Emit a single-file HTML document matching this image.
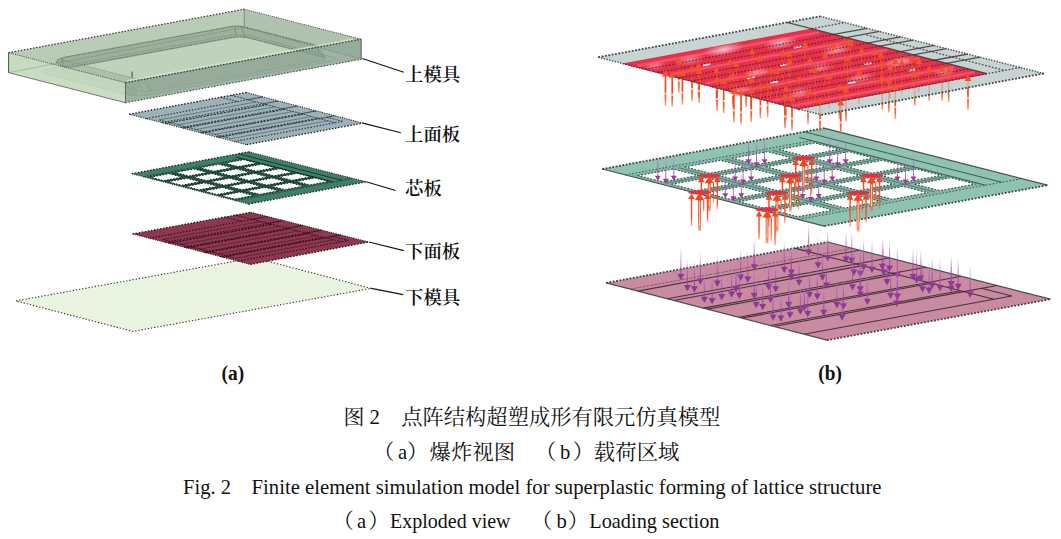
<!DOCTYPE html>
<html lang="zh"><head><meta charset="utf-8"><title>图 2 点阵结构超塑成形有限元仿真模型</title>
<style>html,body{margin:0;padding:0;background:#fff;overflow:hidden}svg{display:block}</style></head>
<body>
<svg width="1061" height="539" viewBox="0 0 1061 539">
<defs>
<linearGradient id="gr" x1="0" y1="0" x2="0" y2="1"><stop offset="0" stop-color="#f0481f"/><stop offset="0.6" stop-color="#f24e26" stop-opacity="1"/><stop offset="0.82" stop-color="#f4602f" stop-opacity="0.9"/><stop offset="1" stop-color="#f67246" stop-opacity="0.55"/></linearGradient>
<linearGradient id="gp" x1="0" y1="1" x2="0" y2="0"><stop offset="0" stop-color="#9a3c9c" stop-opacity="0.9"/><stop offset="0.45" stop-color="#a84cb0" stop-opacity="0.65"/><stop offset="0.75" stop-color="#c070c8" stop-opacity="0.4"/><stop offset="1" stop-color="#d090d8" stop-opacity="0.05"/></linearGradient>
<radialGradient id="hl"><stop offset="0" stop-color="#fff" stop-opacity="0.85"/><stop offset="1" stop-color="#fff" stop-opacity="0"/></radialGradient>
</defs>
<rect width="1061" height="539" fill="#fff"/>
<polygon points="16,300.9 254.3,257.7 371.2,288.4 132.9,331.4" fill="#eaf4e1"/>
<polygon points="16,300.9 254.3,257.7 371.2,288.4 132.9,331.4" fill="none" stroke="#333" stroke-width="1.1" stroke-dasharray="1.3 1.9"/>
<polygon points="132.6,233.9 250.8,212.3 368.9,242 250.5,264.4" fill="#8e3750"/>
<line x1="149.46" y1="238.26" x2="252.32" y2="219.37" stroke="#2a0e18" stroke-width="1.2" stroke-dasharray="1.5 1.6" opacity="0.9"/>
<line x1="165.26" y1="242.35" x2="268.14" y2="223.36" stroke="#2a0e18" stroke-width="1.2" stroke-dasharray="1.5 1.6" opacity="0.9"/>
<line x1="168.68" y1="243.23" x2="271.56" y2="224.23" stroke="#2a0e18" stroke-width="1.2" stroke-dasharray="2.5 1" opacity="0.9"/>
<line x1="184.48" y1="247.32" x2="287.39" y2="228.22" stroke="#2a0e18" stroke-width="1.2" stroke-dasharray="1.5 1.6" opacity="0.9"/>
<line x1="186.6" y1="247.87" x2="289.51" y2="228.76" stroke="#2a0e18" stroke-width="1.2" stroke-dasharray="2.5 1" opacity="0.9"/>
<line x1="203.34" y1="252.2" x2="306.28" y2="232.99" stroke="#2a0e18" stroke-width="1.2" stroke-dasharray="1.5 1.6" opacity="0.9"/>
<line x1="205.11" y1="252.66" x2="308.05" y2="233.44" stroke="#2a0e18" stroke-width="1.2" stroke-dasharray="2.5 1" opacity="0.9"/>
<line x1="220.32" y1="256.59" x2="323.28" y2="237.28" stroke="#2a0e18" stroke-width="1.2" stroke-dasharray="1.5 1.6" opacity="0.9"/>
<line x1="222.2" y1="257.08" x2="325.17" y2="237.76" stroke="#2a0e18" stroke-width="1.2" stroke-dasharray="2.5 1" opacity="0.9"/>
<line x1="238.12" y1="261.2" x2="348.21" y2="240.44" stroke="#2a0e18" stroke-width="1.2" stroke-dasharray="1.5 1.6" opacity="0.9"/>
<line x1="162.68" y1="239.59" x2="260.82" y2="221.52" stroke="#2a0e18" stroke-width="0.8" opacity="0.55"/>
<line x1="181.54" y1="244.46" x2="279.71" y2="226.28" stroke="#2a0e18" stroke-width="0.8" opacity="0.55"/>
<line x1="199.82" y1="249.18" x2="298.01" y2="230.9" stroke="#2a0e18" stroke-width="0.8" opacity="0.55"/>
<line x1="218.68" y1="254.06" x2="316.91" y2="235.67" stroke="#2a0e18" stroke-width="0.8" opacity="0.55"/>
<line x1="235.19" y1="258.32" x2="333.44" y2="239.85" stroke="#2a0e18" stroke-width="0.8" opacity="0.55"/>
<line x1="235.43" y1="215.11" x2="341.11" y2="241.78" stroke="#2a0e18" stroke-width="1.02" stroke-dasharray="2 1" opacity="0.765"/>
<line x1="332.27" y1="236.43" x2="348.21" y2="240.44" stroke="#2a0e18" stroke-width="1.02" stroke-dasharray="2 1" opacity="0.765"/>
<line x1="224.8" y1="217.05" x2="241.68" y2="221.32" stroke="#2a0e18" stroke-width="1.02" stroke-dasharray="2 1" opacity="0.765"/>
<line x1="162.68" y1="239.59" x2="235.19" y2="258.32" stroke="#2a0e18" stroke-width="1.02" stroke-dasharray="2 1" opacity="0.765"/>
<line x1="252.32" y1="219.37" x2="267.69" y2="216.55" stroke="#2a0e18" stroke-width="1.08" opacity="0.7200000000000001"/>
<line x1="268.14" y1="223.36" x2="283.51" y2="220.53" stroke="#2a0e18" stroke-width="1.08" opacity="0.7200000000000001"/>
<line x1="287.39" y1="228.22" x2="302.76" y2="225.37" stroke="#2a0e18" stroke-width="1.08" opacity="0.7200000000000001"/>
<line x1="306.28" y1="232.99" x2="321.66" y2="230.12" stroke="#2a0e18" stroke-width="1.08" opacity="0.7200000000000001"/>
<line x1="325.17" y1="237.76" x2="340.56" y2="234.87" stroke="#2a0e18" stroke-width="1.08" opacity="0.7200000000000001"/>
<line x1="132.6" y1="233.9" x2="250.5" y2="264.4" stroke="#1c1c1c" stroke-width="1.1" stroke-dasharray="1.1 1.2" opacity="0.9"/>
<line x1="250.8" y1="212.3" x2="368.9" y2="242" stroke="#1c1c1c" stroke-width="1.1" stroke-dasharray="1.1 1.2" opacity="0.9"/>
<line x1="132.6" y1="233.9" x2="250.8" y2="212.3" stroke="#1c1c1c" stroke-width="1.3" stroke-dasharray="1.5 1.6"/>
<line x1="250.5" y1="264.4" x2="368.9" y2="242" stroke="#1c1c1c" stroke-width="1.3" stroke-dasharray="1.5 1.6"/>
<polygon points="131.8,173.7 248.8,151.8 366.2,181.8 248.6,204.1" fill="#3f7f6a"/>
<polygon points="145.82,176.98 243.63,158.65 333.01,181.55 234.82,200.14" fill="#0c241c" opacity="0.3"/>
<polygon points="150.5,177.15 168.99,173.68 182.32,177.14 163.81,180.61" fill="#fff" stroke="#0c241c" stroke-width="1.0" stroke-dasharray="1.5 1.6"/>
<polygon points="168.25,181.77 186.76,178.29 200.09,181.75 181.57,185.23" fill="#fff" stroke="#0c241c" stroke-width="1.0" stroke-dasharray="1.5 1.6"/>
<polygon points="186.01,186.39 204.54,182.9 217.86,186.36 199.32,189.85" fill="#fff" stroke="#0c241c" stroke-width="1.0" stroke-dasharray="1.5 1.6"/>
<polygon points="203.76,191.01 222.31,187.51 235.63,190.97 217.08,194.47" fill="#fff" stroke="#0c241c" stroke-width="1.0" stroke-dasharray="1.5 1.6"/>
<polygon points="221.52,195.63 240.08,192.12 253.4,195.58 234.84,199.09" fill="#fff" stroke="#0c241c" stroke-width="1.0" stroke-dasharray="1.5 1.6"/>
<polygon points="175.38,172.49 193.87,169.02 207.22,172.46 188.71,175.94" fill="#fff" stroke="#0c241c" stroke-width="1.0" stroke-dasharray="1.5 1.6"/>
<polygon points="193.15,177.09 211.66,173.61 225.01,177.06 206.48,180.55" fill="#fff" stroke="#0c241c" stroke-width="1.0" stroke-dasharray="1.5 1.6"/>
<polygon points="210.93,181.7 229.45,178.21 242.8,181.66 224.26,185.15" fill="#fff" stroke="#0c241c" stroke-width="1.0" stroke-dasharray="1.5 1.6"/>
<polygon points="228.7,186.3 247.24,182.81 260.59,186.25 242.03,189.76" fill="#fff" stroke="#0c241c" stroke-width="1.0" stroke-dasharray="1.5 1.6"/>
<polygon points="246.48,190.91 265.03,187.4 278.38,190.85 259.81,194.37" fill="#fff" stroke="#0c241c" stroke-width="1.0" stroke-dasharray="1.5 1.6"/>
<polygon points="200.25,167.82 218.75,164.35 232.11,167.79 213.6,171.27" fill="#fff" stroke="#0c241c" stroke-width="1.0" stroke-dasharray="1.5 1.6"/>
<polygon points="218.05,172.41 236.56,168.94 249.92,172.37 231.4,175.86" fill="#fff" stroke="#0c241c" stroke-width="1.0" stroke-dasharray="1.5 1.6"/>
<polygon points="235.84,177.01 254.37,173.52 267.73,176.96 249.19,180.45" fill="#fff" stroke="#0c241c" stroke-width="1.0" stroke-dasharray="1.5 1.6"/>
<polygon points="253.64,181.6 272.18,178.1 285.54,181.54 266.99,185.05" fill="#fff" stroke="#0c241c" stroke-width="1.0" stroke-dasharray="1.5 1.6"/>
<polygon points="271.43,186.19 289.99,182.69 303.35,186.12 284.78,189.64" fill="#fff" stroke="#0c241c" stroke-width="1.0" stroke-dasharray="1.5 1.6"/>
<polygon points="225.13,163.16 243.63,159.69 257,163.11 238.49,166.59" fill="#fff" stroke="#0c241c" stroke-width="1.0" stroke-dasharray="1.5 1.6"/>
<polygon points="242.95,167.74 261.46,164.26 274.83,167.69 256.31,171.17" fill="#fff" stroke="#0c241c" stroke-width="1.0" stroke-dasharray="1.5 1.6"/>
<polygon points="260.76,172.32 279.29,168.83 292.66,172.26 274.12,175.75" fill="#fff" stroke="#0c241c" stroke-width="1.0" stroke-dasharray="1.5 1.6"/>
<polygon points="278.58,176.9 297.12,173.4 310.49,176.83 291.94,180.33" fill="#fff" stroke="#0c241c" stroke-width="1.0" stroke-dasharray="1.5 1.6"/>
<polygon points="296.39,181.48 314.95,177.97 328.32,181.4 309.75,184.91" fill="#fff" stroke="#0c241c" stroke-width="1.0" stroke-dasharray="1.5 1.6"/>
<line x1="171.83" y1="172.99" x2="256.96" y2="195.06" stroke="#0c241c" stroke-width="0.7" opacity="0.7"/>
<line x1="196.71" y1="168.33" x2="281.93" y2="190.34" stroke="#0c241c" stroke-width="0.7" opacity="0.7"/>
<line x1="221.59" y1="163.66" x2="306.9" y2="185.61" stroke="#0c241c" stroke-width="0.7" opacity="0.7"/>
<line x1="165.21" y1="181.35" x2="260.52" y2="163.44" stroke="#0c241c" stroke-width="0.7" opacity="0.7"/>
<line x1="182.97" y1="185.97" x2="278.35" y2="168.01" stroke="#0c241c" stroke-width="0.7" opacity="0.7"/>
<line x1="200.72" y1="190.59" x2="296.18" y2="172.58" stroke="#0c241c" stroke-width="0.7" opacity="0.7"/>
<line x1="218.48" y1="195.21" x2="314.01" y2="177.15" stroke="#0c241c" stroke-width="0.7" opacity="0.7"/>
<line x1="235.65" y1="156.86" x2="333.6" y2="181.97" stroke="#0c241c" stroke-width="0.9" opacity="0.85"/>
<line x1="238.27" y1="153.77" x2="342.12" y2="180.35" stroke="#0c241c" stroke-width="0.9" opacity="0.85"/>
<line x1="235.17" y1="200.6" x2="352.7" y2="178.35" stroke="#0c241c" stroke-width="0.9" stroke-dasharray="1.5 1.6" opacity="0.85"/>
<line x1="143.83" y1="176.83" x2="241.87" y2="158.46" stroke="#0c241c" stroke-width="0.9" stroke-dasharray="1.5 1.6" opacity="0.85"/>
<line x1="131.8" y1="173.7" x2="248.6" y2="204.1" stroke="#1c1c1c" stroke-width="1.1" stroke-dasharray="1.1 1.2" opacity="0.9"/>
<line x1="248.8" y1="151.8" x2="366.2" y2="181.8" stroke="#1c1c1c" stroke-width="1.1" stroke-dasharray="1.1 1.2" opacity="0.9"/>
<line x1="131.8" y1="173.7" x2="248.8" y2="151.8" stroke="#1c1c1c" stroke-width="1.3" stroke-dasharray="1.5 1.6"/>
<line x1="248.6" y1="204.1" x2="366.2" y2="181.8" stroke="#1c1c1c" stroke-width="1.3" stroke-dasharray="1.5 1.6"/>
<polygon points="129.3,114.2 246.3,92.5 362.8,123.1 246.6,144.7" fill="#9db2b8"/>
<line x1="146.07" y1="118.56" x2="247.76" y2="99.69" stroke="#263238" stroke-width="1.2" stroke-dasharray="1.5 1.6" opacity="0.9"/>
<line x1="161.79" y1="122.65" x2="263.39" y2="103.79" stroke="#263238" stroke-width="1.2" stroke-dasharray="1.5 1.6" opacity="0.9"/>
<line x1="165.19" y1="123.53" x2="266.77" y2="104.68" stroke="#263238" stroke-width="1.2" stroke-dasharray="2.5 1" opacity="0.9"/>
<line x1="180.91" y1="127.62" x2="282.4" y2="108.78" stroke="#263238" stroke-width="1.2" stroke-dasharray="1.5 1.6" opacity="0.9"/>
<line x1="183.02" y1="128.17" x2="284.49" y2="109.33" stroke="#263238" stroke-width="1.2" stroke-dasharray="2.5 1" opacity="0.9"/>
<line x1="199.68" y1="132.5" x2="301.05" y2="113.67" stroke="#263238" stroke-width="1.2" stroke-dasharray="1.5 1.6" opacity="0.9"/>
<line x1="201.44" y1="132.96" x2="302.8" y2="114.13" stroke="#263238" stroke-width="1.2" stroke-dasharray="2.5 1" opacity="0.9"/>
<line x1="216.57" y1="136.89" x2="317.84" y2="118.08" stroke="#263238" stroke-width="1.2" stroke-dasharray="1.5 1.6" opacity="0.9"/>
<line x1="218.45" y1="137.38" x2="319.71" y2="118.57" stroke="#263238" stroke-width="1.2" stroke-dasharray="2.5 1" opacity="0.9"/>
<line x1="234.28" y1="141.5" x2="342.43" y2="121.4" stroke="#263238" stroke-width="1.2" stroke-dasharray="1.5 1.6" opacity="0.9"/>
<line x1="159.19" y1="119.89" x2="256.16" y2="101.9" stroke="#263238" stroke-width="0.8" opacity="0.55"/>
<line x1="177.96" y1="124.77" x2="274.82" y2="106.79" stroke="#263238" stroke-width="0.8" opacity="0.55"/>
<line x1="196.13" y1="129.5" x2="292.89" y2="111.53" stroke="#263238" stroke-width="0.8" opacity="0.55"/>
<line x1="214.89" y1="134.38" x2="311.55" y2="116.43" stroke="#263238" stroke-width="0.8" opacity="0.55"/>
<line x1="231.31" y1="138.65" x2="327.87" y2="120.71" stroke="#263238" stroke-width="0.8" opacity="0.55"/>
<line x1="231.09" y1="95.32" x2="335.45" y2="122.7" stroke="#263238" stroke-width="1.02" stroke-dasharray="2 1" opacity="0.765"/>
<line x1="326.69" y1="117.27" x2="342.43" y2="121.4" stroke="#263238" stroke-width="1.02" stroke-dasharray="2 1" opacity="0.765"/>
<line x1="220.56" y1="97.27" x2="237.24" y2="101.65" stroke="#263238" stroke-width="1.02" stroke-dasharray="2 1" opacity="0.765"/>
<line x1="159.19" y1="119.89" x2="231.31" y2="138.65" stroke="#263238" stroke-width="1.02" stroke-dasharray="2 1" opacity="0.765"/>
<line x1="247.76" y1="99.69" x2="262.96" y2="96.88" stroke="#263238" stroke-width="1.08" opacity="0.7200000000000001"/>
<line x1="263.39" y1="103.79" x2="278.57" y2="100.98" stroke="#263238" stroke-width="1.08" opacity="0.7200000000000001"/>
<line x1="282.4" y1="108.78" x2="297.56" y2="105.96" stroke="#263238" stroke-width="1.08" opacity="0.7200000000000001"/>
<line x1="301.05" y1="113.67" x2="316.2" y2="110.86" stroke="#263238" stroke-width="1.08" opacity="0.7200000000000001"/>
<line x1="319.71" y1="118.57" x2="334.84" y2="115.76" stroke="#263238" stroke-width="1.08" opacity="0.7200000000000001"/>
<line x1="129.3" y1="114.2" x2="246.6" y2="144.7" stroke="#1c1c1c" stroke-width="1.1" stroke-dasharray="1.1 1.2" opacity="0.9"/>
<line x1="246.3" y1="92.5" x2="362.8" y2="123.1" stroke="#1c1c1c" stroke-width="1.1" stroke-dasharray="1.1 1.2" opacity="0.9"/>
<line x1="129.3" y1="114.2" x2="246.3" y2="92.5" stroke="#1c1c1c" stroke-width="1.3" stroke-dasharray="1.5 1.6"/>
<line x1="246.6" y1="144.7" x2="362.8" y2="123.1" stroke="#1c1c1c" stroke-width="1.3" stroke-dasharray="1.5 1.6"/>
<polygon points="8.6,52.7 244.3,9.2 361.2,39.2 361.2,59.2 125.5,102.7 8.6,72.7" fill="#bfd2bb"/>
<polygon points="8.6,52.7 244.3,9.2 244.3,27.2 8.6,72.7" fill="#b3c6b0" opacity="0.55"/>
<polygon points="244.3,9.2 361.2,39.2 361.2,59.2 244.3,27.2" fill="#a3b7a3" opacity="0.6"/>
<path d="M45.33,73.81 43.62,73.29 42.37,72.72 41.6,72.12 41.36,71.52 41.64,70.93 42.45,70.39 43.74,69.91 45.47,69.51 230.86,35.29 232.97,34.98 235.36,34.78 237.96,34.7 240.65,34.73 243.35,34.89 245.93,35.15 248.31,35.51 250.38,35.96 331.55,56.79 333.25,57.31 334.5,57.88 335.27,58.48 335.51,59.08 335.23,59.66 334.42,60.21 333.13,60.69 331.4,61.09 146.01,95.31 143.9,95.61 141.51,95.81 138.91,95.89 136.22,95.86 133.53,95.71 130.94,95.45 128.57,95.08 126.49,94.63Z M64.3,60.4 63.11,60.03 62.22,59.63 61.69,59.21 61.52,58.79 61.72,58.38 62.28,58 63.19,57.67 64.4,57.38 230.94,26.65 232.42,26.43 234.09,26.29 235.91,26.24 237.8,26.26 239.68,26.36 241.49,26.55 243.15,26.8 244.61,27.12 314.51,45.06 315.7,45.42 316.58,45.82 317.12,46.24 317.29,46.66 317.09,47.07 316.53,47.45 315.62,47.79 314.41,48.07 147.87,78.8 146.39,79.02 144.72,79.16 142.9,79.22 141.01,79.19 139.13,79.09 137.32,78.9 135.66,78.65 134.2,78.33Z" fill="#8fa590" fill-rule="evenodd" opacity="0.13"/>
<polygon points="56.4,62.6 57.6,60 60.5,58.4 64.4,57.38 230.94,26.65 232.42,26.43 234.09,26.29 235.91,26.24 237.8,26.26 239.68,26.36 241.49,26.55 243.15,26.8 244.61,27.12 314.51,45.06 315.7,45.42 316.58,45.82 317.12,46.24 317.29,46.66 317.09,47.07 316.53,47.45 324.82,57.61 323.81,57.16 322.45,56.74 248.64,37.8 246.98,37.44 245.07,37.15 243.01,36.94 240.86,36.82 238.7,36.79 236.62,36.86 234.71,37.02 233.02,37.26 75,66.4 66,66.7 59.5,64.9" fill="#99ae9a" opacity="0.92" stroke="#99ae9a" stroke-width="1.5" stroke-linejoin="round"/>
<polygon points="45.33,73.81 43.62,73.29 42.37,72.72 41.6,72.12 41.36,71.52 41.64,70.93 42.45,70.39 43.74,69.91 45.47,69.51 230.86,35.29 232.97,34.98 235.36,34.78 237.96,34.7 240.65,34.73 243.35,34.89 245.93,35.15 248.31,35.51 250.38,35.96 331.55,56.79 333.25,57.31 334.5,57.88 335.27,58.48 335.51,59.08 335.23,59.66 334.42,60.21 333.13,60.69 331.4,61.09 146.01,95.31 143.9,95.61 141.51,95.81 138.91,95.89 136.22,95.86 133.53,95.71 130.94,95.45 128.57,95.08 126.49,94.63" fill="none" stroke="#7b8f7d" stroke-width="0.8" opacity="0.7"/>
<polygon points="65.26,71.64 63.9,71.23 62.9,70.77 62.29,70.29 62.09,69.81 62.32,69.34 62.96,68.91 64,68.52 65.38,68.2 233.02,37.26 234.71,37.02 236.62,36.86 238.7,36.79 240.86,36.82 243.01,36.94 245.07,37.15 246.98,37.44 248.64,37.8 322.45,56.74 323.81,57.16 324.82,57.61 325.43,58.09 325.63,58.57 325.4,59.04 324.76,59.48 323.72,59.86 322.33,60.18 154.69,91.12 153.01,91.37 151.09,91.53 149.02,91.59 146.86,91.57 144.71,91.45 142.64,91.24 140.74,90.95 139.08,90.59" fill="none" stroke="#7b8f7d" stroke-width="0.8" opacity="0.6"/>
<polygon points="64.3,60.4 63.11,60.03 62.22,59.63 61.69,59.21 61.52,58.79 61.72,58.38 62.28,58 63.19,57.67 64.4,57.38 230.94,26.65 232.42,26.43 234.09,26.29 235.91,26.24 237.8,26.26 239.68,26.36 241.49,26.55 243.15,26.8 244.61,27.12 314.51,45.06 315.7,45.42 316.58,45.82 317.12,46.24 317.29,46.66 317.09,47.07 316.53,47.45 315.62,47.79 314.41,48.07 147.87,78.8 146.39,79.02 144.72,79.16 142.9,79.22 141.01,79.19 139.13,79.09 137.32,78.9 135.66,78.65 134.2,78.33" fill="none" stroke="#7b8f7d" stroke-width="0.8" opacity="0.6"/>
<polyline points="56.4,62.6 57.6,60 60.5,58.4 64.4,57.38 230.94,26.65 232.42,26.43 234.09,26.29 235.91,26.24 237.8,26.26 239.68,26.36 241.49,26.55 243.15,26.8 244.61,27.12 314.51,45.06 315.7,45.42 316.58,45.82 317.12,46.24 317.29,46.66 317.09,47.07 316.53,47.45" fill="none" stroke="#55685a" stroke-width="1.0" stroke-dasharray="1.5 1.6" opacity="0.75"/>
<polyline points="59.5,64.9 66,66.7 75,66.4 233.02,37.26 234.71,37.02 236.62,36.86 238.7,36.79 240.86,36.82 243.01,36.94 245.07,37.15 246.98,37.44 248.64,37.8 322.45,56.74 323.81,57.16 324.82,57.61" fill="none" stroke="#55685a" stroke-width="1.0" stroke-dasharray="1.5 1.6" opacity="0.75"/>
<line x1="62.22" y1="59.63" x2="62.9" y2="70.77" stroke="#6b7f6d" stroke-width="0.7" opacity="0.8"/>
<line x1="62.28" y1="58" x2="62.96" y2="68.91" stroke="#6b7f6d" stroke-width="0.7" opacity="0.8"/>
<line x1="234.09" y1="26.29" x2="236.62" y2="36.86" stroke="#6b7f6d" stroke-width="0.7" opacity="0.8"/>
<line x1="241.49" y1="26.55" x2="245.07" y2="37.15" stroke="#6b7f6d" stroke-width="0.7" opacity="0.8"/>
<line x1="316.58" y1="45.82" x2="324.82" y2="57.61" stroke="#6b7f6d" stroke-width="0.7" opacity="0.8"/>
<line x1="316.53" y1="47.45" x2="324.76" y2="59.48" stroke="#6b7f6d" stroke-width="0.7" opacity="0.8"/>
<line x1="144.72" y1="79.16" x2="151.09" y2="91.53" stroke="#6b7f6d" stroke-width="0.7" opacity="0.8"/>
<line x1="137.32" y1="78.9" x2="142.64" y2="91.24" stroke="#6b7f6d" stroke-width="0.7" opacity="0.8"/>
<polygon points="64.3,60.4 134.2,78.33 141.01,79.19 136.22,95.86 126.49,94.63 45.33,73.81 41.36,71.52 59.5,64.9 56.4,62.6" fill="#93a895" opacity="0.32"/>
<polygon points="317.29,46.66 314.41,48.07 147.87,78.8 141.01,79.19 146.86,91.57 154.69,91.12 322.33,60.18 325.63,58.57" fill="#93a895" opacity="0.3"/>
<polygon points="8.6,52.7 125.5,82.7 125.5,102.7 8.6,72.7" fill="#cde1c8" opacity="0.7"/>
<polygon points="125.5,82.7 361.2,39.2 361.2,59.2 125.5,102.7" fill="#889e90" opacity="0.62"/>
<line x1="126.71" y1="80.93" x2="352.98" y2="39.17" stroke="#d6e6cf" stroke-width="1.6" opacity="0.8"/>
<line x1="8.6" y1="72.7" x2="244.3" y2="27.2" stroke="#6f806f" stroke-width="0.8" opacity="0.45"/>
<line x1="244.3" y1="27.2" x2="361.2" y2="59.2" stroke="#5f705f" stroke-width="0.9" stroke-dasharray="1.2 1.6" opacity="0.7"/>
<line x1="244.3" y1="9.2" x2="244.3" y2="27.2" stroke="#6f806f" stroke-width="0.9" opacity="0.9"/>
<line x1="8.6" y1="52.7" x2="244.3" y2="9.2" stroke="#262b26" stroke-width="1.25" stroke-dasharray="1.5 1.6" opacity="0.9"/>
<line x1="125.5" y1="82.7" x2="361.2" y2="39.2" stroke="#262b26" stroke-width="1.25" stroke-dasharray="1.5 1.6" opacity="0.9"/>
<line x1="8.6" y1="52.7" x2="125.5" y2="82.7" stroke="#3a443a" stroke-width="1.0" stroke-dasharray="1.1 1.1" opacity="0.85"/>
<line x1="244.3" y1="9.2" x2="361.2" y2="39.2" stroke="#3a443a" stroke-width="1.0" stroke-dasharray="1.1 1.1" opacity="0.85"/>
<line x1="8.6" y1="72.7" x2="125.5" y2="102.7" stroke="#4a564a" stroke-width="0.9" opacity="0.8"/>
<line x1="125.5" y1="102.7" x2="361.2" y2="59.2" stroke="#3a443a" stroke-width="1.1" stroke-dasharray="1.5 1.6" opacity="0.9"/>
<line x1="8.6" y1="52.7" x2="8.6" y2="72.7" stroke="#4a554a" stroke-width="1"/>
<line x1="125.5" y1="82.7" x2="125.5" y2="102.7" stroke="#5a665a" stroke-width="1"/>
<line x1="361.2" y1="39.2" x2="361.2" y2="59.2" stroke="#5a665a" stroke-width="1"/>
<line x1="132.1" y1="71.6" x2="132.1" y2="77.5" stroke="#333" stroke-width="0.9"/>
<line x1="362.3" y1="58.6" x2="403.8" y2="72.3" stroke="#111" stroke-width="1.1"/>
<line x1="362.8" y1="123.1" x2="400.8" y2="132.8" stroke="#111" stroke-width="1.1"/>
<line x1="366.2" y1="181.8" x2="395.5" y2="190.5" stroke="#111" stroke-width="1.1"/>
<line x1="368.9" y1="242" x2="403.8" y2="250.6" stroke="#111" stroke-width="1.1"/>
<line x1="371.2" y1="288.4" x2="403.2" y2="294.6" stroke="#111" stroke-width="1.1"/>
<polygon points="606.1,282.9 827.7,242 1050.6,299.2 827,340.2" fill="#c98ba2"/>
<line x1="637.69" y1="291.09" x2="826.29" y2="256.32" stroke="#33262c" stroke-width="1.1" opacity="0.85"/>
<line x1="667.29" y1="298.77" x2="856.12" y2="263.98" stroke="#33262c" stroke-width="1.1" opacity="0.85"/>
<line x1="673.7" y1="300.43" x2="862.58" y2="265.64" stroke="#33262c" stroke-width="1.1" opacity="0.85"/>
<line x1="703.3" y1="308.11" x2="892.4" y2="273.31" stroke="#33262c" stroke-width="1.1" opacity="0.85"/>
<line x1="707.27" y1="309.14" x2="896.41" y2="274.34" stroke="#33262c" stroke-width="1.1" opacity="0.85"/>
<line x1="738.64" y1="317.28" x2="928.02" y2="282.46" stroke="#33262c" stroke-width="1.1" opacity="0.85"/>
<line x1="741.95" y1="318.14" x2="931.36" y2="283.32" stroke="#33262c" stroke-width="1.1" opacity="0.85"/>
<line x1="770.45" y1="325.53" x2="960.07" y2="290.7" stroke="#33262c" stroke-width="1.1" opacity="0.85"/>
<line x1="773.98" y1="326.45" x2="963.64" y2="291.62" stroke="#33262c" stroke-width="1.1" opacity="0.85"/>
<line x1="803.81" y1="334.18" x2="1011.56" y2="296.06" stroke="#33262c" stroke-width="1.1" opacity="0.85"/>
<line x1="630.4" y1="289.2" x2="852.22" y2="248.29" stroke="#33262c" stroke-width="0.8800000000000001" stroke-dasharray="3 1" opacity="0.51"/>
<line x1="794.46" y1="248.13" x2="993.69" y2="299.34" stroke="#33262c" stroke-width="1.1" opacity="0.85"/>
<line x1="981.49" y1="288.34" x2="1011.56" y2="296.06" stroke="#33262c" stroke-width="1.1" opacity="0.85"/>
<line x1="826.29" y1="256.32" x2="859.57" y2="250.18" stroke="#33262c" stroke-width="1.1" opacity="0.85"/>
<line x1="856.12" y1="263.98" x2="889.44" y2="257.84" stroke="#33262c" stroke-width="1.1" opacity="0.85"/>
<line x1="892.4" y1="273.31" x2="925.78" y2="267.17" stroke="#33262c" stroke-width="1.1" opacity="0.85"/>
<line x1="928.02" y1="282.46" x2="961.44" y2="276.32" stroke="#33262c" stroke-width="1.1" opacity="0.85"/>
<line x1="963.64" y1="291.62" x2="997.1" y2="285.47" stroke="#33262c" stroke-width="1.1" opacity="0.85"/>
<line x1="606.1" y1="282.9" x2="827" y2="340.2" stroke="#3c4444" stroke-width="1.2" opacity="0.9"/>
<line x1="827.7" y1="242" x2="1050.6" y2="299.2" stroke="#3c4444" stroke-width="1.2" opacity="0.9"/>
<line x1="606.1" y1="282.9" x2="827.7" y2="242" stroke="#3c4444" stroke-width="1.8" stroke-dasharray="1.8 1.6"/>
<line x1="827" y1="340.2" x2="1050.6" y2="299.2" stroke="#3c4444" stroke-width="1.8" stroke-dasharray="1.8 1.6"/>
<rect x="808.15" y="223.4" width="1.1" height="27" fill="url(#gp)"/>
<polygon points="808.7,255.7 812.2,249.4 805.2,249.4" fill="#8d3892"/>
<rect x="827.15" y="229.2" width="1.1" height="27" fill="url(#gp)"/>
<polygon points="827.7,261.5 831.2,255.2 824.2,255.2" fill="#8d3892"/>
<rect x="845.45" y="230.5" width="1.1" height="27" fill="url(#gp)"/>
<polygon points="846,262.8 849.5,256.5 842.5,256.5" fill="#8d3892"/>
<rect x="851.15" y="231.8" width="1.1" height="27" fill="url(#gp)"/>
<polygon points="851.7,264.1 855.2,257.8 848.2,257.8" fill="#8d3892"/>
<rect x="817.55" y="236.2" width="1.1" height="27" fill="url(#gp)"/>
<polygon points="818.1,268.5 821.6,262.2 814.6,262.2" fill="#8d3892"/>
<rect x="881.75" y="237.7" width="1.1" height="27" fill="url(#gp)"/>
<polygon points="882.3,270 885.8,263.7 878.8,263.7" fill="#8d3892"/>
<rect x="753.65" y="238.3" width="1.1" height="27" fill="url(#gp)"/>
<polygon points="754.2,270.6 757.7,264.3 750.7,264.3" fill="#8d3892"/>
<rect x="863.05" y="238.3" width="1.1" height="27" fill="url(#gp)"/>
<polygon points="863.6,270.6 867.1,264.3 860.1,264.3" fill="#8d3892"/>
<rect x="889.05" y="239.6" width="1.1" height="27" fill="url(#gp)"/>
<polygon points="889.6,271.9 893.1,265.6 886.1,265.6" fill="#8d3892"/>
<rect x="783.75" y="240.8" width="1.1" height="27" fill="url(#gp)"/>
<polygon points="784.3,273.1 787.8,266.8 780.8,266.8" fill="#8d3892"/>
<rect x="871.45" y="240.8" width="1.1" height="27" fill="url(#gp)"/>
<polygon points="872,273.1 875.5,266.8 868.5,266.8" fill="#8d3892"/>
<rect x="790.75" y="243.4" width="1.1" height="27" fill="url(#gp)"/>
<polygon points="791.3,275.7 794.8,269.4 787.8,269.4" fill="#8d3892"/>
<rect x="853.25" y="243.4" width="1.1" height="27" fill="url(#gp)"/>
<polygon points="853.8,275.7 857.3,269.4 850.3,269.4" fill="#8d3892"/>
<rect x="883.05" y="243.4" width="1.1" height="27" fill="url(#gp)"/>
<polygon points="883.6,275.7 887.1,269.4 880.1,269.4" fill="#8d3892"/>
<rect x="859.75" y="244.7" width="1.1" height="27" fill="url(#gp)"/>
<polygon points="860.3,277 863.8,270.7 856.8,270.7" fill="#8d3892"/>
<rect x="896.85" y="246" width="1.1" height="27" fill="url(#gp)"/>
<polygon points="897.4,278.3 900.9,272 893.9,272" fill="#8d3892"/>
<rect x="680.35" y="247.9" width="1.1" height="27" fill="url(#gp)"/>
<polygon points="680.9,280.2 684.4,273.9 677.4,273.9" fill="#8d3892"/>
<rect x="790.75" y="247.9" width="1.1" height="27" fill="url(#gp)"/>
<polygon points="791.3,280.2 794.8,273.9 787.8,273.9" fill="#8d3892"/>
<rect x="912.45" y="247.9" width="1.1" height="27" fill="url(#gp)"/>
<polygon points="913,280.2 916.5,273.9 909.5,273.9" fill="#8d3892"/>
<rect x="740.05" y="248.6" width="1.1" height="27" fill="url(#gp)"/>
<polygon points="740.6,280.9 744.1,274.6 737.1,274.6" fill="#8d3892"/>
<rect x="821.95" y="248.6" width="1.1" height="27" fill="url(#gp)"/>
<polygon points="822.5,280.9 826,274.6 819,274.6" fill="#8d3892"/>
<rect x="920.25" y="249.4" width="1.1" height="27" fill="url(#gp)"/>
<polygon points="920.8,281.7 924.3,275.4 917.3,275.4" fill="#8d3892"/>
<rect x="747.15" y="250.5" width="1.1" height="27" fill="url(#gp)"/>
<polygon points="747.7,282.8 751.2,276.5 744.2,276.5" fill="#8d3892"/>
<rect x="916.05" y="251.2" width="1.1" height="27" fill="url(#gp)"/>
<polygon points="916.6,283.5 920.1,277.2 913.1,277.2" fill="#8d3892"/>
<rect x="699.85" y="252.5" width="1.1" height="27" fill="url(#gp)"/>
<polygon points="700.4,284.8 703.9,278.5 696.9,278.5" fill="#8d3892"/>
<rect x="886.45" y="253.1" width="1.1" height="27" fill="url(#gp)"/>
<polygon points="887,285.4 890.5,279.1 883.5,279.1" fill="#8d3892"/>
<rect x="798.55" y="253.8" width="1.1" height="27" fill="url(#gp)"/>
<polygon points="799.1,286.1 802.6,279.8 795.6,279.8" fill="#8d3892"/>
<rect x="716.75" y="254.6" width="1.1" height="27" fill="url(#gp)"/>
<polygon points="717.3,286.9 720.8,280.6 713.8,280.6" fill="#8d3892"/>
<rect x="950.65" y="255.1" width="1.1" height="27" fill="url(#gp)"/>
<polygon points="951.2,287.4 954.7,281.1 947.7,281.1" fill="#8d3892"/>
<rect x="825.85" y="256.4" width="1.1" height="27" fill="url(#gp)"/>
<polygon points="826.4,288.7 829.9,282.4 822.9,282.4" fill="#8d3892"/>
<rect x="931.65" y="256.4" width="1.1" height="27" fill="url(#gp)"/>
<polygon points="932.2,288.7 935.7,282.4 928.7,282.4" fill="#8d3892"/>
<rect x="957.65" y="257.7" width="1.1" height="27" fill="url(#gp)"/>
<polygon points="958.2,290 961.7,283.7 954.7,283.7" fill="#8d3892"/>
<rect x="768.15" y="258.3" width="1.1" height="27" fill="url(#gp)"/>
<polygon points="768.7,290.6 772.2,284.3 765.2,284.3" fill="#8d3892"/>
<rect x="851.95" y="258.3" width="1.1" height="27" fill="url(#gp)"/>
<polygon points="852.5,290.6 856,284.3 849,284.3" fill="#8d3892"/>
<rect x="686.85" y="259" width="1.1" height="27" fill="url(#gp)"/>
<polygon points="687.4,291.3 690.9,285 683.9,285" fill="#8d3892"/>
<rect x="939.45" y="259" width="1.1" height="27" fill="url(#gp)"/>
<polygon points="940,291.3 943.5,285 936.5,285" fill="#8d3892"/>
<rect x="950.65" y="259.8" width="1.1" height="27" fill="url(#gp)"/>
<polygon points="951.2,292.1 954.7,285.8 947.7,285.8" fill="#8d3892"/>
<rect x="693.85" y="260.3" width="1.1" height="27" fill="url(#gp)"/>
<polygon points="694.4,292.6 697.9,286.3 690.9,286.3" fill="#8d3892"/>
<rect x="735.45" y="260.3" width="1.1" height="27" fill="url(#gp)"/>
<polygon points="736,292.6 739.5,286.3 732.5,286.3" fill="#8d3892"/>
<rect x="775.15" y="260.3" width="1.1" height="27" fill="url(#gp)"/>
<polygon points="775.7,292.6 779.2,286.3 772.2,286.3" fill="#8d3892"/>
<rect x="859.75" y="260.3" width="1.1" height="27" fill="url(#gp)"/>
<polygon points="860.3,292.6 863.8,286.3 856.8,286.3" fill="#8d3892"/>
<rect x="922.05" y="260.3" width="1.1" height="27" fill="url(#gp)"/>
<polygon points="922.6,292.6 926.1,286.3 919.1,286.3" fill="#8d3892"/>
<rect x="928.55" y="261.6" width="1.1" height="27" fill="url(#gp)"/>
<polygon points="929.1,293.9 932.6,287.6 925.6,287.6" fill="#8d3892"/>
<rect x="731.05" y="265.5" width="1.1" height="27" fill="url(#gp)"/>
<polygon points="731.6,297.8 735.1,291.5 728.1,291.5" fill="#8d3892"/>
<rect x="859.75" y="265.5" width="1.1" height="27" fill="url(#gp)"/>
<polygon points="860.3,297.8 863.8,291.5 856.8,291.5" fill="#8d3892"/>
<rect x="969.55" y="265.5" width="1.1" height="27" fill="url(#gp)"/>
<polygon points="970.1,297.8 973.6,291.5 966.6,291.5" fill="#8d3892"/>
<rect x="808.95" y="266" width="1.1" height="27" fill="url(#gp)"/>
<polygon points="809.5,298.3 813,292 806,292" fill="#8d3892"/>
<rect x="738.85" y="266.8" width="1.1" height="27" fill="url(#gp)"/>
<polygon points="739.4,299.1 742.9,292.8 735.9,292.8" fill="#8d3892"/>
<rect x="753.65" y="266.8" width="1.1" height="27" fill="url(#gp)"/>
<polygon points="754.2,299.1 757.7,292.8 750.7,292.8" fill="#8d3892"/>
<rect x="890.05" y="266.8" width="1.1" height="27" fill="url(#gp)"/>
<polygon points="890.6,299.1 894.1,292.8 887.1,292.8" fill="#8d3892"/>
<rect x="816.75" y="267.6" width="1.1" height="27" fill="url(#gp)"/>
<polygon points="817.3,299.9 820.8,293.6 813.8,293.6" fill="#8d3892"/>
<rect x="896.85" y="267.6" width="1.1" height="27" fill="url(#gp)"/>
<polygon points="897.4,299.9 900.9,293.6 893.9,293.6" fill="#8d3892"/>
<rect x="721.15" y="268.1" width="1.1" height="27" fill="url(#gp)"/>
<polygon points="721.7,300.4 725.2,294.1 718.2,294.1" fill="#8d3892"/>
<rect x="703.75" y="270.7" width="1.1" height="27" fill="url(#gp)"/>
<polygon points="704.3,303 707.8,296.7 700.8,296.7" fill="#8d3892"/>
<rect x="769.95" y="270.7" width="1.1" height="27" fill="url(#gp)"/>
<polygon points="770.5,303 774,296.7 767,296.7" fill="#8d3892"/>
<rect x="711.55" y="272" width="1.1" height="27" fill="url(#gp)"/>
<polygon points="712.1,304.3 715.6,298 708.6,298" fill="#8d3892"/>
<rect x="866.75" y="272.8" width="1.1" height="27" fill="url(#gp)"/>
<polygon points="867.3,305.1 870.8,298.8 863.8,298.8" fill="#8d3892"/>
<rect x="896.05" y="274.6" width="1.1" height="27" fill="url(#gp)"/>
<polygon points="896.6,306.9 900.1,300.6 893.1,300.6" fill="#8d3892"/>
<rect x="755.65" y="275.9" width="1.1" height="27" fill="url(#gp)"/>
<polygon points="756.2,308.2 759.7,301.9 752.7,301.9" fill="#8d3892"/>
<rect x="788.15" y="275.9" width="1.1" height="27" fill="url(#gp)"/>
<polygon points="788.7,308.2 792.2,301.9 785.2,301.9" fill="#8d3892"/>
<rect x="836.35" y="275.9" width="1.1" height="27" fill="url(#gp)"/>
<polygon points="836.9,308.2 840.4,301.9 833.4,301.9" fill="#8d3892"/>
<rect x="842.85" y="277.2" width="1.1" height="27" fill="url(#gp)"/>
<polygon points="843.4,309.5 846.9,303.2 839.9,303.2" fill="#8d3892"/>
<rect x="762.15" y="278" width="1.1" height="27" fill="url(#gp)"/>
<polygon points="762.7,310.3 766.2,304 759.2,304" fill="#8d3892"/>
<rect x="803.75" y="279" width="1.1" height="27" fill="url(#gp)"/>
<polygon points="804.3,311.3 807.8,305 800.8,305" fill="#8d3892"/>
<rect x="799.85" y="282.4" width="1.1" height="27" fill="url(#gp)"/>
<polygon points="800.4,314.7 803.9,308.4 796.9,308.4" fill="#8d3892"/>
<rect x="823.25" y="283.7" width="1.1" height="27" fill="url(#gp)"/>
<polygon points="823.8,316 827.3,309.7 820.3,309.7" fill="#8d3892"/>
<rect x="807.15" y="285" width="1.1" height="27" fill="url(#gp)"/>
<polygon points="807.7,317.3 811.2,311 804.2,311" fill="#8d3892"/>
<rect x="789.45" y="286.3" width="1.1" height="27" fill="url(#gp)"/>
<polygon points="790,318.6 793.5,312.3 786.5,312.3" fill="#8d3892"/>
<rect x="772.55" y="288.4" width="1.1" height="27" fill="url(#gp)"/>
<polygon points="773.1,320.7 776.6,314.4 769.6,314.4" fill="#8d3892"/>
<rect x="841.55" y="288.4" width="1.1" height="27" fill="url(#gp)"/>
<polygon points="842.1,320.7 845.6,314.4 838.6,314.4" fill="#8d3892"/>
<rect x="780.35" y="289.4" width="1.1" height="27" fill="url(#gp)"/>
<polygon points="780.9,321.7 784.4,315.4 777.4,315.4" fill="#8d3892"/>
<polygon points="602.3,169 824,128.1 1047.6,185.2 824.3,226.1" fill="#90c2b2"/>
<polygon points="628.94,175.26 814.77,141.01 984.51,184.41 797.67,218.66" fill="#33504a" opacity="0.12"/>
<polygon points="637.82,175.59 673.32,169.04 698.22,175.44 662.69,181.98" fill="#fff" stroke="#33504a" stroke-width="1.15" stroke-dasharray="1.8 1.6"/>
<polygon points="671.57,184.27 707.11,177.72 732.01,184.12 696.44,190.66" fill="#fff" stroke="#33504a" stroke-width="1.15" stroke-dasharray="1.8 1.6"/>
<polygon points="705.32,192.95 740.9,186.4 765.8,192.8 730.19,199.34" fill="#fff" stroke="#33504a" stroke-width="1.15" stroke-dasharray="1.8 1.6"/>
<polygon points="739.07,201.63 774.69,195.08 799.59,201.48 763.94,208.02" fill="#fff" stroke="#33504a" stroke-width="1.15" stroke-dasharray="1.8 1.6"/>
<polygon points="772.82,210.3 808.48,203.76 833.38,210.16 797.69,216.7" fill="#fff" stroke="#33504a" stroke-width="1.15" stroke-dasharray="1.8 1.6"/>
<polygon points="684.97,166.9 720.48,160.35 745.42,166.75 709.88,173.29" fill="#fff" stroke="#33504a" stroke-width="1.15" stroke-dasharray="1.8 1.6"/>
<polygon points="718.78,175.58 754.32,169.03 779.26,175.43 743.68,181.97" fill="#fff" stroke="#33504a" stroke-width="1.15" stroke-dasharray="1.8 1.6"/>
<polygon points="752.58,184.26 788.16,177.71 813.1,184.11 777.49,190.65" fill="#fff" stroke="#33504a" stroke-width="1.15" stroke-dasharray="1.8 1.6"/>
<polygon points="786.38,192.93 822,186.39 846.94,192.79 811.29,199.33" fill="#fff" stroke="#33504a" stroke-width="1.15" stroke-dasharray="1.8 1.6"/>
<polygon points="820.18,201.61 855.84,195.07 880.78,201.46 845.09,208.01" fill="#fff" stroke="#33504a" stroke-width="1.15" stroke-dasharray="1.8 1.6"/>
<polygon points="732.13,158.21 767.64,151.66 792.61,158.06 757.08,164.6" fill="#fff" stroke="#33504a" stroke-width="1.15" stroke-dasharray="1.8 1.6"/>
<polygon points="765.99,166.88 801.53,160.34 826.5,166.74 790.93,173.28" fill="#fff" stroke="#33504a" stroke-width="1.15" stroke-dasharray="1.8 1.6"/>
<polygon points="799.84,175.56 835.42,169.02 860.4,175.42 824.78,181.96" fill="#fff" stroke="#33504a" stroke-width="1.15" stroke-dasharray="1.8 1.6"/>
<polygon points="833.69,184.24 869.32,177.7 894.29,184.09 858.64,190.64" fill="#fff" stroke="#33504a" stroke-width="1.15" stroke-dasharray="1.8 1.6"/>
<polygon points="867.55,192.92 903.21,186.38 928.18,192.77 892.49,199.32" fill="#fff" stroke="#33504a" stroke-width="1.15" stroke-dasharray="1.8 1.6"/>
<polygon points="779.29,149.51 814.79,142.97 839.81,149.37 804.27,155.91" fill="#fff" stroke="#33504a" stroke-width="1.15" stroke-dasharray="1.8 1.6"/>
<polygon points="813.19,158.19 848.74,151.65 873.75,158.04 838.18,164.59" fill="#fff" stroke="#33504a" stroke-width="1.15" stroke-dasharray="1.8 1.6"/>
<polygon points="847.1,166.87 882.68,160.33 907.69,166.72 872.08,173.27" fill="#fff" stroke="#33504a" stroke-width="1.15" stroke-dasharray="1.8 1.6"/>
<polygon points="881,175.55 916.63,169.01 941.64,175.4 905.99,181.95" fill="#fff" stroke="#33504a" stroke-width="1.15" stroke-dasharray="1.8 1.6"/>
<polygon points="914.91,184.23 950.57,177.69 975.58,184.08 939.89,190.63" fill="#fff" stroke="#33504a" stroke-width="1.15" stroke-dasharray="1.8 1.6"/>
<line x1="678.26" y1="167.74" x2="840.12" y2="209.31" stroke="#33504a" stroke-width="0.8049999999999999" opacity="0.7"/>
<line x1="725.42" y1="159.05" x2="887.53" y2="200.62" stroke="#33504a" stroke-width="0.8049999999999999" opacity="0.7"/>
<line x1="772.57" y1="150.36" x2="934.93" y2="191.93" stroke="#33504a" stroke-width="0.8049999999999999" opacity="0.7"/>
<line x1="665.79" y1="183.37" x2="846.49" y2="150.1" stroke="#33504a" stroke-width="0.8049999999999999" opacity="0.7"/>
<line x1="699.54" y1="192.05" x2="880.44" y2="158.78" stroke="#33504a" stroke-width="0.8049999999999999" opacity="0.7"/>
<line x1="733.29" y1="200.73" x2="914.39" y2="167.46" stroke="#33504a" stroke-width="0.8049999999999999" opacity="0.7"/>
<line x1="767.04" y1="209.41" x2="948.33" y2="176.14" stroke="#33504a" stroke-width="0.8049999999999999" opacity="0.7"/>
<line x1="799.36" y1="137.56" x2="985.63" y2="185.18" stroke="#33504a" stroke-width="1.035" opacity="0.85"/>
<line x1="804.05" y1="131.78" x2="1001.58" y2="182.26" stroke="#33504a" stroke-width="1.035" opacity="0.85"/>
<line x1="798.55" y1="219.48" x2="1021.66" y2="178.58" stroke="#33504a" stroke-width="1.035" stroke-dasharray="1.8 1.6" opacity="0.85"/>
<line x1="625.39" y1="174.94" x2="811.42" y2="140.64" stroke="#33504a" stroke-width="1.035" stroke-dasharray="1.8 1.6" opacity="0.85"/>
<line x1="602.3" y1="169" x2="824.3" y2="226.1" stroke="#3c4444" stroke-width="1.2" opacity="0.9"/>
<line x1="824" y1="128.1" x2="1047.6" y2="185.2" stroke="#3c4444" stroke-width="1.2" opacity="0.9"/>
<line x1="602.3" y1="169" x2="824" y2="128.1" stroke="#3c4444" stroke-width="1.8" stroke-dasharray="1.8 1.6"/>
<line x1="824.3" y1="226.1" x2="1047.6" y2="185.2" stroke="#3c4444" stroke-width="1.8" stroke-dasharray="1.8 1.6"/>
<rect x="795.03" y="163.97" width="1.4" height="24" fill="url(#gr)"/>
<rect x="811.03" y="163.97" width="1.4" height="30" fill="url(#gr)"/>
<rect x="802.33" y="162.97" width="2.8" height="29" fill="url(#gr)"/>
<rect x="807.38" y="165.47" width="1.1" height="24" fill="url(#gr)"/>
<rect x="803.13" y="166.97" width="1.2" height="20" fill="#ffe6cc" opacity="0.8"/>
<ellipse cx="803.73" cy="158.27" rx="11.5" ry="2.2" fill="#ea2a3c" opacity="0.92"/>
<polygon points="795.73,159.47 799.13,164.97 792.33,164.97" fill="#f2461c"/>
<polygon points="811.73,159.47 815.13,164.97 808.33,164.97" fill="#f2461c"/>
<polygon points="803.73,158.47 808.33,165.97 799.13,165.97" fill="#f2461c"/>
<rect x="829.13" y="135.15" width="1.0" height="25" fill="url(#gp)"/>
<polygon points="829.63,164.15 832.63,159.15 826.63,159.15" fill="#9a3c9c"/>
<rect x="837.13" y="138.15" width="1.0" height="25" fill="url(#gp)"/>
<polygon points="837.63,167.15 840.63,162.15 834.63,162.15" fill="#9a3c9c"/>
<rect x="845.13" y="135.15" width="1.0" height="25" fill="url(#gp)"/>
<polygon points="845.63,164.15 848.63,159.15 842.63,159.15" fill="#9a3c9c"/>
<rect x="748.03" y="135.16" width="1.0" height="25" fill="url(#gp)"/>
<polygon points="748.53,164.16 751.53,159.16 745.53,159.16" fill="#9a3c9c"/>
<rect x="756.03" y="138.16" width="1.0" height="25" fill="url(#gp)"/>
<polygon points="756.53,167.16 759.53,162.16 753.53,162.16" fill="#9a3c9c"/>
<rect x="764.03" y="135.16" width="1.0" height="25" fill="url(#gp)"/>
<polygon points="764.53,164.16 767.53,159.16 761.53,159.16" fill="#9a3c9c"/>
<rect x="862.83" y="181.33" width="1.4" height="14" fill="url(#gr)"/>
<rect x="878.83" y="181.33" width="1.4" height="28" fill="url(#gr)"/>
<rect x="870.13" y="180.33" width="2.8" height="31" fill="url(#gr)"/>
<rect x="875.18" y="182.83" width="1.1" height="20" fill="url(#gr)"/>
<rect x="870.93" y="184.33" width="1.2" height="22" fill="#ffe6cc" opacity="0.8"/>
<ellipse cx="871.53" cy="175.63" rx="11.5" ry="2.2" fill="#ea2a3c" opacity="0.92"/>
<polygon points="863.53,176.83 866.93,182.33 860.13,182.33" fill="#f2461c"/>
<polygon points="879.53,176.83 882.93,182.33 876.13,182.33" fill="#f2461c"/>
<polygon points="871.53,175.83 876.13,183.33 866.93,183.33" fill="#f2461c"/>
<rect x="781.68" y="181.34" width="1.4" height="14" fill="url(#gr)"/>
<rect x="797.68" y="181.34" width="1.4" height="28" fill="url(#gr)"/>
<rect x="788.98" y="180.34" width="2.8" height="31" fill="url(#gr)"/>
<rect x="794.03" y="182.84" width="1.1" height="20" fill="url(#gr)"/>
<rect x="789.78" y="184.34" width="1.2" height="22" fill="#ffe6cc" opacity="0.8"/>
<ellipse cx="790.38" cy="175.64" rx="11.5" ry="2.2" fill="#ea2a3c" opacity="0.92"/>
<polygon points="782.38,176.84 785.78,182.34 778.98,182.34" fill="#f2461c"/>
<polygon points="798.38,176.84 801.78,182.34 794.98,182.34" fill="#f2461c"/>
<polygon points="790.38,175.84 794.98,183.34 785.78,183.34" fill="#f2461c"/>
<rect x="700.63" y="181.35" width="1.4" height="14" fill="url(#gr)"/>
<rect x="716.63" y="181.35" width="1.4" height="28" fill="url(#gr)"/>
<rect x="707.93" y="180.35" width="2.8" height="31" fill="url(#gr)"/>
<rect x="712.98" y="182.85" width="1.1" height="20" fill="url(#gr)"/>
<rect x="708.73" y="184.35" width="1.2" height="22" fill="#ffe6cc" opacity="0.8"/>
<ellipse cx="709.33" cy="175.65" rx="11.5" ry="2.2" fill="#ea2a3c" opacity="0.92"/>
<polygon points="701.33,176.85 704.73,182.35 697.93,182.35" fill="#f2461c"/>
<polygon points="717.33,176.85 720.73,182.35 713.93,182.35" fill="#f2461c"/>
<polygon points="709.33,175.85 713.93,183.35 704.73,183.35" fill="#f2461c"/>
<rect x="657.29" y="151.87" width="1.0" height="25" fill="url(#gp)"/>
<polygon points="657.79,180.87 660.79,175.87 654.79,175.87" fill="#9a3c9c"/>
<rect x="665.29" y="154.87" width="1.0" height="25" fill="url(#gp)"/>
<polygon points="665.79,183.87 668.79,178.87 662.79,178.87" fill="#9a3c9c"/>
<rect x="673.29" y="151.87" width="1.0" height="25" fill="url(#gp)"/>
<polygon points="673.79,180.87 676.79,175.87 670.79,175.87" fill="#9a3c9c"/>
<rect x="896.93" y="152.51" width="1.0" height="25" fill="url(#gp)"/>
<polygon points="897.43,181.51 900.43,176.51 894.43,176.51" fill="#9a3c9c"/>
<rect x="904.93" y="155.51" width="1.0" height="25" fill="url(#gp)"/>
<polygon points="905.43,184.51 908.43,179.51 902.43,179.51" fill="#9a3c9c"/>
<rect x="912.93" y="152.51" width="1.0" height="25" fill="url(#gp)"/>
<polygon points="913.43,181.51 916.43,176.51 910.43,176.51" fill="#9a3c9c"/>
<rect x="815.73" y="152.52" width="1.0" height="25" fill="url(#gp)"/>
<polygon points="816.23,181.52 819.23,176.52 813.23,176.52" fill="#9a3c9c"/>
<rect x="823.73" y="155.52" width="1.0" height="25" fill="url(#gp)"/>
<polygon points="824.23,184.52 827.23,179.52 821.23,179.52" fill="#9a3c9c"/>
<rect x="831.73" y="152.52" width="1.0" height="25" fill="url(#gp)"/>
<polygon points="832.23,181.52 835.23,176.52 829.23,176.52" fill="#9a3c9c"/>
<rect x="734.63" y="152.53" width="1.0" height="25" fill="url(#gp)"/>
<polygon points="735.13,181.53 738.13,176.53 732.13,176.53" fill="#9a3c9c"/>
<rect x="742.63" y="155.53" width="1.0" height="25" fill="url(#gp)"/>
<polygon points="743.13,184.53 746.13,179.53 740.13,179.53" fill="#9a3c9c"/>
<rect x="750.63" y="152.53" width="1.0" height="25" fill="url(#gp)"/>
<polygon points="751.13,181.53 754.13,176.53 748.13,176.53" fill="#9a3c9c"/>
<rect x="690.84" y="198.05" width="1.4" height="28" fill="url(#gr)"/>
<rect x="706.84" y="198.05" width="1.4" height="24" fill="url(#gr)"/>
<rect x="698.14" y="197.05" width="2.8" height="34" fill="url(#gr)"/>
<rect x="703.19" y="199.55" width="1.1" height="12" fill="url(#gr)"/>
<rect x="698.94" y="201.05" width="1.2" height="25" fill="#ffe6cc" opacity="0.8"/>
<ellipse cx="699.54" cy="192.35" rx="11.5" ry="2.2" fill="#ea2a3c" opacity="0.92"/>
<polygon points="691.54,193.55 694.94,199.05 688.14,199.05" fill="#f2461c"/>
<polygon points="707.54,193.55 710.94,199.05 704.14,199.05" fill="#f2461c"/>
<polygon points="699.54,192.55 704.14,200.05 694.94,200.05" fill="#f2461c"/>
<rect x="849.38" y="198.7" width="1.4" height="28" fill="url(#gr)"/>
<rect x="865.38" y="198.7" width="1.4" height="24" fill="url(#gr)"/>
<rect x="856.68" y="197.7" width="2.8" height="34" fill="url(#gr)"/>
<rect x="861.73" y="200.2" width="1.1" height="12" fill="url(#gr)"/>
<rect x="857.48" y="201.7" width="1.2" height="25" fill="#ffe6cc" opacity="0.8"/>
<ellipse cx="858.08" cy="193" rx="11.5" ry="2.2" fill="#ea2a3c" opacity="0.92"/>
<polygon points="850.08,194.2 853.48,199.7 846.68,199.7" fill="#f2461c"/>
<polygon points="866.08,194.2 869.48,199.7 862.68,199.7" fill="#f2461c"/>
<polygon points="858.08,193.2 862.68,200.7 853.48,200.7" fill="#f2461c"/>
<rect x="768.22" y="198.71" width="1.4" height="28" fill="url(#gr)"/>
<rect x="784.22" y="198.71" width="1.4" height="24" fill="url(#gr)"/>
<rect x="775.52" y="197.71" width="2.8" height="34" fill="url(#gr)"/>
<rect x="780.57" y="200.21" width="1.1" height="12" fill="url(#gr)"/>
<rect x="776.32" y="201.71" width="1.2" height="25" fill="#ffe6cc" opacity="0.8"/>
<ellipse cx="776.92" cy="193.01" rx="11.5" ry="2.2" fill="#ea2a3c" opacity="0.92"/>
<polygon points="768.92,194.21 772.32,199.71 765.52,199.71" fill="#f2461c"/>
<polygon points="784.92,194.21 788.32,199.71 781.52,199.71" fill="#f2461c"/>
<polygon points="776.92,193.21 781.52,200.71 772.32,200.71" fill="#f2461c"/>
<rect x="724.79" y="169.23" width="1.0" height="25" fill="url(#gp)"/>
<polygon points="725.29,198.23 728.29,193.23 722.29,193.23" fill="#9a3c9c"/>
<rect x="732.79" y="172.23" width="1.0" height="25" fill="url(#gp)"/>
<polygon points="733.29,201.23 736.29,196.23 730.29,196.23" fill="#9a3c9c"/>
<rect x="740.79" y="169.23" width="1.0" height="25" fill="url(#gp)"/>
<polygon points="741.29,198.23 744.29,193.23 738.29,193.23" fill="#9a3c9c"/>
<rect x="802.22" y="169.89" width="1.0" height="25" fill="url(#gp)"/>
<polygon points="802.72,198.89 805.72,193.89 799.72,193.89" fill="#9a3c9c"/>
<rect x="810.22" y="172.89" width="1.0" height="25" fill="url(#gp)"/>
<polygon points="810.72,201.89 813.72,196.89 807.72,196.89" fill="#9a3c9c"/>
<rect x="818.22" y="169.89" width="1.0" height="25" fill="url(#gp)"/>
<polygon points="818.72,198.89 821.72,193.89 815.72,193.89" fill="#9a3c9c"/>
<rect x="758.34" y="215.41" width="1.4" height="24" fill="url(#gr)"/>
<rect x="774.34" y="215.41" width="1.4" height="30" fill="url(#gr)"/>
<rect x="765.64" y="214.41" width="2.8" height="29" fill="url(#gr)"/>
<rect x="770.69" y="216.91" width="1.1" height="24" fill="url(#gr)"/>
<rect x="766.44" y="218.41" width="1.2" height="20" fill="#ffe6cc" opacity="0.8"/>
<ellipse cx="767.04" cy="209.71" rx="11.5" ry="2.2" fill="#ea2a3c" opacity="0.92"/>
<polygon points="759.04,210.91 762.44,216.41 755.64,216.41" fill="#f2461c"/>
<polygon points="775.04,210.91 778.44,216.41 771.64,216.41" fill="#f2461c"/>
<polygon points="767.04,209.91 771.64,217.41 762.44,217.41" fill="#f2461c"/>
<rect x="843.85" y="42.6" width="1.7" height="31" fill="url(#gr)"/>
<rect x="843.55" y="60.65" width="2.3" height="1.8" fill="#fff" opacity="0.75"/>
<rect x="849.75" y="43.9" width="1.7" height="31" fill="url(#gr)"/>
<rect x="849.45" y="61.95" width="2.3" height="1.8" fill="#fff" opacity="0.75"/>
<rect x="804.15" y="46" width="1.7" height="31" fill="url(#gr)"/>
<rect x="803.85" y="64.05" width="2.3" height="1.8" fill="#fff" opacity="0.75"/>
<rect x="832.15" y="46.5" width="1.7" height="31" fill="url(#gr)"/>
<rect x="831.85" y="64.55" width="2.3" height="1.8" fill="#fff" opacity="0.75"/>
<rect x="860.75" y="51.6" width="1.7" height="31" fill="url(#gr)"/>
<rect x="860.45" y="69.65" width="2.3" height="1.8" fill="#fff" opacity="0.75"/>
<rect x="751.35" y="52.6" width="1.7" height="31" fill="url(#gr)"/>
<rect x="751.05" y="70.65" width="2.3" height="1.8" fill="#fff" opacity="0.75"/>
<rect x="873.65" y="52.9" width="1.7" height="31" fill="url(#gr)"/>
<rect x="873.35" y="70.95" width="2.3" height="1.8" fill="#fff" opacity="0.75"/>
<rect x="782.05" y="53.7" width="1.7" height="31" fill="url(#gr)"/>
<rect x="781.75" y="71.75" width="2.3" height="1.8" fill="#fff" opacity="0.75"/>
<rect x="788.15" y="54.7" width="1.7" height="31" fill="url(#gr)"/>
<rect x="787.85" y="72.75" width="2.3" height="1.8" fill="#fff" opacity="0.75"/>
<rect x="880.15" y="55.5" width="1.7" height="31" fill="url(#gr)"/>
<rect x="879.85" y="73.55" width="2.3" height="1.8" fill="#fff" opacity="0.75"/>
<rect x="824.15" y="56" width="1.7" height="31" fill="url(#gr)"/>
<rect x="823.85" y="74.05" width="2.3" height="1.8" fill="#fff" opacity="0.75"/>
<rect x="758.55" y="58.8" width="1.7" height="31" fill="url(#gr)"/>
<rect x="758.25" y="76.85" width="2.3" height="1.8" fill="#fff" opacity="0.75"/>
<rect x="846.45" y="59.4" width="1.7" height="31" fill="url(#gr)"/>
<rect x="846.15" y="77.45" width="2.3" height="1.8" fill="#fff" opacity="0.75"/>
<rect x="911.35" y="59.4" width="1.7" height="31" fill="url(#gr)"/>
<rect x="911.05" y="77.45" width="2.3" height="1.8" fill="#fff" opacity="0.75"/>
<rect x="809.15" y="61" width="1.7" height="31" fill="url(#gr)"/>
<rect x="808.85" y="79.05" width="2.3" height="1.8" fill="#fff" opacity="0.75"/>
<rect x="677.95" y="61.8" width="1.7" height="31" fill="url(#gr)"/>
<rect x="677.65" y="79.85" width="2.3" height="1.8" fill="#fff" opacity="0.75"/>
<rect x="894.45" y="62" width="1.7" height="31" fill="url(#gr)"/>
<rect x="894.15" y="80.05" width="2.3" height="1.8" fill="#fff" opacity="0.75"/>
<rect x="917.85" y="62" width="1.7" height="31" fill="url(#gr)"/>
<rect x="917.55" y="80.05" width="2.3" height="1.8" fill="#fff" opacity="0.75"/>
<rect x="728.95" y="62.8" width="1.7" height="31" fill="url(#gr)"/>
<rect x="728.65" y="80.85" width="2.3" height="1.8" fill="#fff" opacity="0.75"/>
<rect x="789.15" y="62.8" width="1.7" height="31" fill="url(#gr)"/>
<rect x="788.85" y="80.85" width="2.3" height="1.8" fill="#fff" opacity="0.75"/>
<rect x="900.95" y="63.3" width="1.7" height="31" fill="url(#gr)"/>
<rect x="900.65" y="81.35" width="2.3" height="1.8" fill="#fff" opacity="0.75"/>
<rect x="881.45" y="64.6" width="1.7" height="31" fill="url(#gr)"/>
<rect x="881.15" y="82.65" width="2.3" height="1.8" fill="#fff" opacity="0.75"/>
<rect x="735.45" y="64.9" width="1.7" height="31" fill="url(#gr)"/>
<rect x="735.15" y="82.95" width="2.3" height="1.8" fill="#fff" opacity="0.75"/>
<rect x="697.75" y="66.9" width="1.7" height="31" fill="url(#gr)"/>
<rect x="697.45" y="84.95" width="2.3" height="1.8" fill="#fff" opacity="0.75"/>
<rect x="889.25" y="68" width="1.7" height="31" fill="url(#gr)"/>
<rect x="888.95" y="86.05" width="2.3" height="1.8" fill="#fff" opacity="0.75"/>
<rect x="928.25" y="69.8" width="1.7" height="31" fill="url(#gr)"/>
<rect x="927.95" y="87.85" width="2.3" height="1.8" fill="#fff" opacity="0.75"/>
<rect x="941.25" y="69.8" width="1.7" height="31" fill="url(#gr)"/>
<rect x="940.95" y="87.85" width="2.3" height="1.8" fill="#fff" opacity="0.75"/>
<rect x="691.15" y="70" width="1.7" height="31" fill="url(#gr)"/>
<rect x="690.85" y="88.05" width="2.3" height="1.8" fill="#fff" opacity="0.75"/>
<rect x="715.65" y="71" width="1.7" height="31" fill="url(#gr)"/>
<rect x="715.35" y="89.05" width="2.3" height="1.8" fill="#fff" opacity="0.75"/>
<rect x="769.75" y="71" width="1.7" height="31" fill="url(#gr)"/>
<rect x="769.45" y="89.05" width="2.3" height="1.8" fill="#fff" opacity="0.75"/>
<rect x="814.15" y="71" width="1.7" height="31" fill="url(#gr)"/>
<rect x="813.85" y="89.05" width="2.3" height="1.8" fill="#fff" opacity="0.75"/>
<rect x="947.75" y="71.1" width="1.7" height="31" fill="url(#gr)"/>
<rect x="947.45" y="89.15" width="2.3" height="1.8" fill="#fff" opacity="0.75"/>
<rect x="698.35" y="72" width="1.7" height="31" fill="url(#gr)"/>
<rect x="698.05" y="90.05" width="2.3" height="1.8" fill="#fff" opacity="0.75"/>
<rect x="775.85" y="72" width="1.7" height="31" fill="url(#gr)"/>
<rect x="775.55" y="90.05" width="2.3" height="1.8" fill="#fff" opacity="0.75"/>
<rect x="681.55" y="73.7" width="1.7" height="31" fill="url(#gr)"/>
<rect x="681.25" y="91.75" width="2.3" height="1.8" fill="#fff" opacity="0.75"/>
<rect x="858.15" y="73.7" width="1.7" height="31" fill="url(#gr)"/>
<rect x="857.85" y="91.75" width="2.3" height="1.8" fill="#fff" opacity="0.75"/>
<rect x="664.65" y="74.5" width="1.7" height="31" fill="url(#gr)"/>
<rect x="664.35" y="92.55" width="2.3" height="1.8" fill="#fff" opacity="0.75"/>
<rect x="913.95" y="75" width="1.7" height="31" fill="url(#gr)"/>
<rect x="913.65" y="93.05" width="2.3" height="1.8" fill="#fff" opacity="0.75"/>
<rect x="671.35" y="75.7" width="1.7" height="31" fill="url(#gr)"/>
<rect x="671.05" y="93.75" width="2.3" height="1.8" fill="#fff" opacity="0.75"/>
<rect x="732.05" y="76.1" width="1.7" height="31" fill="url(#gr)"/>
<rect x="731.75" y="94.15" width="2.3" height="1.8" fill="#fff" opacity="0.75"/>
<rect x="745.25" y="76.1" width="1.7" height="31" fill="url(#gr)"/>
<rect x="744.95" y="94.15" width="2.3" height="1.8" fill="#fff" opacity="0.75"/>
<rect x="828.25" y="77.6" width="1.7" height="31" fill="url(#gr)"/>
<rect x="827.95" y="95.65" width="2.3" height="1.8" fill="#fff" opacity="0.75"/>
<rect x="881.45" y="78.9" width="1.7" height="31" fill="url(#gr)"/>
<rect x="881.15" y="96.95" width="2.3" height="1.8" fill="#fff" opacity="0.75"/>
<rect x="967.15" y="78.9" width="1.7" height="31" fill="url(#gr)"/>
<rect x="966.85" y="96.95" width="2.3" height="1.8" fill="#fff" opacity="0.75"/>
<rect x="716.25" y="80.2" width="1.7" height="31" fill="url(#gr)"/>
<rect x="715.95" y="98.25" width="2.3" height="1.8" fill="#fff" opacity="0.75"/>
<rect x="750.35" y="80.2" width="1.7" height="31" fill="url(#gr)"/>
<rect x="750.05" y="98.25" width="2.3" height="1.8" fill="#fff" opacity="0.75"/>
<rect x="798.35" y="80.2" width="1.7" height="31" fill="url(#gr)"/>
<rect x="798.05" y="98.25" width="2.3" height="1.8" fill="#fff" opacity="0.75"/>
<rect x="887.95" y="81.5" width="1.7" height="31" fill="url(#gr)"/>
<rect x="887.65" y="99.55" width="2.3" height="1.8" fill="#fff" opacity="0.75"/>
<rect x="722.85" y="82.2" width="1.7" height="31" fill="url(#gr)"/>
<rect x="722.55" y="100.25" width="2.3" height="1.8" fill="#fff" opacity="0.75"/>
<rect x="766.75" y="86.3" width="1.7" height="31" fill="url(#gr)"/>
<rect x="766.45" y="104.35" width="2.3" height="1.8" fill="#fff" opacity="0.75"/>
<rect x="759.55" y="87.3" width="1.7" height="31" fill="url(#gr)"/>
<rect x="759.25" y="105.35" width="2.3" height="1.8" fill="#fff" opacity="0.75"/>
<rect x="838.65" y="88" width="1.7" height="31" fill="url(#gr)"/>
<rect x="838.35" y="106.05" width="2.3" height="1.8" fill="#fff" opacity="0.75"/>
<rect x="894.45" y="88" width="1.7" height="31" fill="url(#gr)"/>
<rect x="894.15" y="106.05" width="2.3" height="1.8" fill="#fff" opacity="0.75"/>
<rect x="785.05" y="89.4" width="1.7" height="31" fill="url(#gr)"/>
<rect x="784.75" y="107.45" width="2.3" height="1.8" fill="#fff" opacity="0.75"/>
<rect x="845.15" y="90.6" width="1.7" height="31" fill="url(#gr)"/>
<rect x="844.85" y="108.65" width="2.3" height="1.8" fill="#fff" opacity="0.75"/>
<rect x="733.05" y="91.4" width="1.7" height="31" fill="url(#gr)"/>
<rect x="732.75" y="109.45" width="2.3" height="1.8" fill="#fff" opacity="0.75"/>
<rect x="750.35" y="91.4" width="1.7" height="31" fill="url(#gr)"/>
<rect x="750.05" y="109.45" width="2.3" height="1.8" fill="#fff" opacity="0.75"/>
<rect x="807.15" y="93" width="1.7" height="31" fill="url(#gr)"/>
<rect x="806.85" y="111.05" width="2.3" height="1.8" fill="#fff" opacity="0.75"/>
<rect x="740.15" y="93.4" width="1.7" height="31" fill="url(#gr)"/>
<rect x="739.85" y="111.45" width="2.3" height="1.8" fill="#fff" opacity="0.75"/>
<rect x="784.05" y="97.5" width="1.7" height="31" fill="url(#gr)"/>
<rect x="783.75" y="115.55" width="2.3" height="1.8" fill="#fff" opacity="0.75"/>
<rect x="791.15" y="99.6" width="1.7" height="31" fill="url(#gr)"/>
<rect x="790.85" y="117.65" width="2.3" height="1.8" fill="#fff" opacity="0.75"/>
<rect x="819.15" y="101" width="1.7" height="31" fill="url(#gr)"/>
<rect x="818.85" y="119.05" width="2.3" height="1.8" fill="#fff" opacity="0.75"/>
<rect x="839.95" y="103.6" width="1.7" height="31" fill="url(#gr)"/>
<rect x="839.65" y="121.65" width="2.3" height="1.8" fill="#fff" opacity="0.75"/>
<polygon points="598.3,57.2 820.2,16.3 1043.7,73.5 821.3,114.9" fill="#c8d3d3"/>
<polygon points="622.83,63.55 811.49,28.74 986.88,73.7 797.88,108.84" fill="#eb2f4b"/>
<ellipse cx="723.8" cy="49.4" rx="20" ry="7" fill="url(#hl)" opacity="0.75" transform="rotate(-10 723.8 49.4)"/>
<ellipse cx="780.9" cy="42.9" rx="18" ry="6" fill="url(#hl)" opacity="0.7" transform="rotate(-10 780.9 42.9)"/>
<ellipse cx="690" cy="60" rx="16" ry="5" fill="url(#hl)" opacity="0.5" transform="rotate(-10 690 60)"/>
<ellipse cx="757" cy="72" rx="14" ry="5" fill="url(#hl)" opacity="0.55" transform="rotate(-10 757 72)"/>
<ellipse cx="836" cy="50" rx="16" ry="6" fill="url(#hl)" opacity="0.6" transform="rotate(-10 836 50)"/>
<ellipse cx="900" cy="62" rx="16" ry="6" fill="url(#hl)" opacity="0.6" transform="rotate(-10 900 62)"/>
<ellipse cx="800" cy="92" rx="14" ry="5" fill="url(#hl)" opacity="0.5" transform="rotate(-10 800 92)"/>
<ellipse cx="860" cy="78" rx="16" ry="5" fill="url(#hl)" opacity="0.5" transform="rotate(-10 860 78)"/>
<ellipse cx="945" cy="72" rx="12" ry="4.5" fill="url(#hl)" opacity="0.6" transform="rotate(-10 945 72)"/>
<ellipse cx="655" cy="66" rx="12" ry="4" fill="url(#hl)" opacity="0.5" transform="rotate(-10 655 66)"/>
<ellipse cx="740" cy="90" rx="12" ry="4" fill="url(#hl)" opacity="0.45" transform="rotate(-10 740 90)"/>
<ellipse cx="820" cy="68" rx="14" ry="5" fill="url(#hl)" opacity="0.45" transform="rotate(-10 820 68)"/>
<line x1="638.42" y1="65.61" x2="818.22" y2="32.42" stroke="#ffd0d8" stroke-width="2.6" opacity="0.22" stroke-linecap="round"/>
<line x1="671.87" y1="74.27" x2="851.74" y2="41.01" stroke="#ffd0d8" stroke-width="2.6" opacity="0.22" stroke-linecap="round"/>
<line x1="706.44" y1="83.21" x2="886.36" y2="49.89" stroke="#ffd0d8" stroke-width="2.6" opacity="0.22" stroke-linecap="round"/>
<line x1="738.77" y1="91.57" x2="918.76" y2="58.2" stroke="#ffd0d8" stroke-width="2.6" opacity="0.22" stroke-linecap="round"/>
<line x1="773.34" y1="100.51" x2="953.39" y2="67.08" stroke="#ffd0d8" stroke-width="2.6" opacity="0.22" stroke-linecap="round"/>
<line x1="793.41" y1="105.71" x2="973.5" y2="72.23" stroke="#ffd0d8" stroke-width="2.6" opacity="0.22" stroke-linecap="round"/>
<polygon points="622.83,63.55 811.49,28.74 986.88,73.7 797.88,108.84" fill="none" stroke="#e81c36" stroke-width="1"/>
<line x1="621.71" y1="63.26" x2="810.37" y2="28.45" stroke="#bfe4ea" stroke-width="0.8" opacity="0.9"/>
<line x1="812.16" y1="28.61" x2="987.55" y2="73.57" stroke="#bfe4ea" stroke-width="0.8" opacity="0.9"/>
<clipPath id="cpt"><polygon points="598.3,57.2 820.2,16.3 1043.7,73.5 821.3,114.9"/></clipPath><g clip-path="url(#cpt)">
<rect x="844.1" y="42.6" width="1.2" height="30" fill="#f6642c" opacity="0.5"/>
<rect x="850" y="43.9" width="1.2" height="30" fill="#f6642c" opacity="0.5"/>
<rect x="804.4" y="46" width="1.2" height="30" fill="#f6642c" opacity="0.5"/>
<rect x="832.4" y="46.5" width="1.2" height="30" fill="#f6642c" opacity="0.5"/>
<rect x="861" y="51.6" width="1.2" height="30" fill="#f6642c" opacity="0.5"/>
<rect x="751.6" y="52.6" width="1.2" height="30" fill="#f6642c" opacity="0.5"/>
<rect x="873.9" y="52.9" width="1.2" height="30" fill="#f6642c" opacity="0.5"/>
<rect x="782.3" y="53.7" width="1.2" height="30" fill="#f6642c" opacity="0.5"/>
<rect x="788.4" y="54.7" width="1.2" height="30" fill="#f6642c" opacity="0.5"/>
<rect x="880.4" y="55.5" width="1.2" height="30" fill="#f6642c" opacity="0.5"/>
<rect x="824.4" y="56" width="1.2" height="30" fill="#f6642c" opacity="0.5"/>
<rect x="758.8" y="58.8" width="1.2" height="30" fill="#f6642c" opacity="0.5"/>
<rect x="846.7" y="59.4" width="1.2" height="30" fill="#f6642c" opacity="0.5"/>
<rect x="911.6" y="59.4" width="1.2" height="30" fill="#f6642c" opacity="0.5"/>
<rect x="809.4" y="61" width="1.2" height="30" fill="#f6642c" opacity="0.5"/>
<rect x="678.2" y="61.8" width="1.2" height="30" fill="#f6642c" opacity="0.5"/>
<rect x="894.7" y="62" width="1.2" height="30" fill="#f6642c" opacity="0.5"/>
<rect x="918.1" y="62" width="1.2" height="30" fill="#f6642c" opacity="0.5"/>
<rect x="729.2" y="62.8" width="1.2" height="30" fill="#f6642c" opacity="0.5"/>
<rect x="789.4" y="62.8" width="1.2" height="30" fill="#f6642c" opacity="0.5"/>
<rect x="901.2" y="63.3" width="1.2" height="30" fill="#f6642c" opacity="0.5"/>
<rect x="881.7" y="64.6" width="1.2" height="30" fill="#f6642c" opacity="0.5"/>
<rect x="735.7" y="64.9" width="1.2" height="30" fill="#f6642c" opacity="0.5"/>
<rect x="698" y="66.9" width="1.2" height="30" fill="#f6642c" opacity="0.5"/>
<rect x="889.5" y="68" width="1.2" height="30" fill="#f6642c" opacity="0.5"/>
<rect x="928.5" y="69.8" width="1.2" height="30" fill="#f6642c" opacity="0.5"/>
<rect x="941.5" y="69.8" width="1.2" height="30" fill="#f6642c" opacity="0.5"/>
<rect x="691.4" y="70" width="1.2" height="30" fill="#f6642c" opacity="0.5"/>
<rect x="715.9" y="71" width="1.2" height="30" fill="#f6642c" opacity="0.5"/>
<rect x="770" y="71" width="1.2" height="30" fill="#f6642c" opacity="0.5"/>
<rect x="814.4" y="71" width="1.2" height="30" fill="#f6642c" opacity="0.5"/>
<rect x="948" y="71.1" width="1.2" height="30" fill="#f6642c" opacity="0.5"/>
<rect x="698.6" y="72" width="1.2" height="30" fill="#f6642c" opacity="0.5"/>
<rect x="776.1" y="72" width="1.2" height="30" fill="#f6642c" opacity="0.5"/>
<rect x="681.8" y="73.7" width="1.2" height="30" fill="#f6642c" opacity="0.5"/>
<rect x="858.4" y="73.7" width="1.2" height="30" fill="#f6642c" opacity="0.5"/>
<rect x="664.9" y="74.5" width="1.2" height="30" fill="#f6642c" opacity="0.5"/>
<rect x="914.2" y="75" width="1.2" height="30" fill="#f6642c" opacity="0.5"/>
<rect x="671.6" y="75.7" width="1.2" height="30" fill="#f6642c" opacity="0.5"/>
<rect x="732.3" y="76.1" width="1.2" height="30" fill="#f6642c" opacity="0.5"/>
<rect x="745.5" y="76.1" width="1.2" height="30" fill="#f6642c" opacity="0.5"/>
<rect x="828.5" y="77.6" width="1.2" height="30" fill="#f6642c" opacity="0.5"/>
<rect x="881.7" y="78.9" width="1.2" height="30" fill="#f6642c" opacity="0.5"/>
<rect x="967.4" y="78.9" width="1.2" height="30" fill="#f6642c" opacity="0.5"/>
<rect x="716.5" y="80.2" width="1.2" height="30" fill="#f6642c" opacity="0.5"/>
<rect x="750.6" y="80.2" width="1.2" height="30" fill="#f6642c" opacity="0.5"/>
<rect x="798.6" y="80.2" width="1.2" height="30" fill="#f6642c" opacity="0.5"/>
<rect x="888.2" y="81.5" width="1.2" height="30" fill="#f6642c" opacity="0.5"/>
<rect x="723.1" y="82.2" width="1.2" height="30" fill="#f6642c" opacity="0.5"/>
<rect x="767" y="86.3" width="1.2" height="30" fill="#f6642c" opacity="0.5"/>
<rect x="759.8" y="87.3" width="1.2" height="30" fill="#f6642c" opacity="0.5"/>
<rect x="838.9" y="88" width="1.2" height="30" fill="#f6642c" opacity="0.5"/>
<rect x="894.7" y="88" width="1.2" height="30" fill="#f6642c" opacity="0.5"/>
<rect x="785.3" y="89.4" width="1.2" height="30" fill="#f6642c" opacity="0.5"/>
<rect x="845.4" y="90.6" width="1.2" height="30" fill="#f6642c" opacity="0.5"/>
<rect x="733.3" y="91.4" width="1.2" height="30" fill="#f6642c" opacity="0.5"/>
<rect x="750.6" y="91.4" width="1.2" height="30" fill="#f6642c" opacity="0.5"/>
<rect x="807.4" y="93" width="1.2" height="30" fill="#f6642c" opacity="0.5"/>
<rect x="740.4" y="93.4" width="1.2" height="30" fill="#f6642c" opacity="0.5"/>
<rect x="784.3" y="97.5" width="1.2" height="30" fill="#f6642c" opacity="0.5"/>
<rect x="791.4" y="99.6" width="1.2" height="30" fill="#f6642c" opacity="0.5"/>
<rect x="819.4" y="101" width="1.2" height="30" fill="#f6642c" opacity="0.5"/>
<rect x="840.2" y="103.6" width="1.2" height="30" fill="#f6642c" opacity="0.5"/>
</g>
<rect x="702.7" y="63.8" width="8" height="1.8" rx="0.9" fill="#eef8fa" opacity="0.9" transform="rotate(-10.4 706.7 64.7)"/>
<rect x="793.7" y="46.1" width="8" height="1.8" rx="0.9" fill="#eef8fa" opacity="0.9" transform="rotate(-10.4 797.7 47)"/>
<rect x="780.3" y="63.8" width="8" height="1.8" rx="0.9" fill="#eef8fa" opacity="0.9" transform="rotate(-10.4 784.3 64.7)"/>
<rect x="770.3" y="81.2" width="8" height="1.8" rx="0.9" fill="#eef8fa" opacity="0.9" transform="rotate(-10.4 774.3 82.1)"/>
<rect x="847.9" y="81.7" width="8" height="1.8" rx="0.9" fill="#eef8fa" opacity="0.9" transform="rotate(-10.4 851.9 82.6)"/>
<rect x="864" y="62.7" width="8" height="1.8" rx="0.9" fill="#eef8fa" opacity="0.9" transform="rotate(-10.4 868 63.6)"/>
<rect x="747" y="77.1" width="8" height="1.8" rx="0.9" fill="#eef8fa" opacity="0.9" transform="rotate(-10.4 751 78)"/>
<rect x="908" y="69.1" width="8" height="1.8" rx="0.9" fill="#eef8fa" opacity="0.9" transform="rotate(-10.4 912 70)"/>
<line x1="645.13" y1="69.32" x2="833.83" y2="34.46" stroke="#3a3030" stroke-width="1.3" stroke-dasharray="1.8 1.6" opacity="0.8"/>
<line x1="657.39" y1="72.49" x2="846.12" y2="37.61" stroke="#3a3030" stroke-width="1.3" stroke-dasharray="1.8 1.6" opacity="0.8"/>
<line x1="678.58" y1="77.97" x2="867.35" y2="43.05" stroke="#3a3030" stroke-width="1.3" stroke-dasharray="1.8 1.6" opacity="0.8"/>
<line x1="690.84" y1="81.15" x2="879.64" y2="46.2" stroke="#3a3030" stroke-width="1.3" stroke-dasharray="1.8 1.6" opacity="0.8"/>
<line x1="712.03" y1="86.63" x2="900.86" y2="51.65" stroke="#3a3030" stroke-width="1.3" stroke-dasharray="1.8 1.6" opacity="0.8"/>
<line x1="724.29" y1="89.8" x2="913.15" y2="54.8" stroke="#3a3030" stroke-width="1.3" stroke-dasharray="1.8 1.6" opacity="0.8"/>
<line x1="745.48" y1="95.28" x2="934.38" y2="60.24" stroke="#3a3030" stroke-width="1.3" stroke-dasharray="1.8 1.6" opacity="0.8"/>
<line x1="757.74" y1="98.46" x2="946.66" y2="63.39" stroke="#3a3030" stroke-width="1.3" stroke-dasharray="1.8 1.6" opacity="0.8"/>
<line x1="778.93" y1="103.94" x2="967.89" y2="68.83" stroke="#3a3030" stroke-width="1.3" stroke-dasharray="1.8 1.6" opacity="0.8"/>
<line x1="797.88" y1="108.84" x2="1020.23" y2="67.49" stroke="#3a3030" stroke-width="1.3" stroke-dasharray="1.8 1.6" opacity="0.8"/>
<line x1="811.49" y1="28.74" x2="844.79" y2="22.59" stroke="#3a3030" stroke-width="1.3" stroke-dasharray="1.8 1.6" opacity="0.8"/>
<line x1="786.92" y1="22.44" x2="986.88" y2="73.7" stroke="#3a3030" stroke-width="1.3" opacity="0.8"/>
<line x1="866.57" y1="35.02" x2="1004.67" y2="70.39" stroke="#3a3030" stroke-width="1.3" stroke-dasharray="1.8 1.6" opacity="0.8"/>
<line x1="833.83" y1="34.46" x2="867.14" y2="28.31" stroke="#3a3030" stroke-width="1.3" opacity="0.8"/>
<line x1="846.12" y1="37.61" x2="879.43" y2="31.46" stroke="#3a3030" stroke-width="1.3" opacity="0.8"/>
<line x1="867.35" y1="43.05" x2="900.66" y2="36.89" stroke="#3a3030" stroke-width="1.3" opacity="0.8"/>
<line x1="879.64" y1="46.2" x2="912.95" y2="40.04" stroke="#3a3030" stroke-width="1.3" opacity="0.8"/>
<line x1="900.86" y1="51.65" x2="934.19" y2="45.47" stroke="#3a3030" stroke-width="1.3" opacity="0.8"/>
<line x1="913.15" y1="54.8" x2="946.48" y2="48.62" stroke="#3a3030" stroke-width="1.3" opacity="0.8"/>
<line x1="934.38" y1="60.24" x2="967.71" y2="54.05" stroke="#3a3030" stroke-width="1.3" opacity="0.8"/>
<line x1="946.66" y1="63.39" x2="980" y2="57.2" stroke="#3a3030" stroke-width="1.3" opacity="0.8"/>
<line x1="598.3" y1="57.2" x2="821.3" y2="114.9" stroke="#3c4444" stroke-width="1.5" stroke-dasharray="1.4 1.4" opacity="0.9"/>
<line x1="820.2" y1="16.3" x2="1043.7" y2="73.5" stroke="#3c4444" stroke-width="1.5" stroke-dasharray="1.4 1.4" opacity="0.9"/>
<line x1="598.3" y1="57.2" x2="820.2" y2="16.3" stroke="#3c4444" stroke-width="1.8" stroke-dasharray="1.8 1.6"/>
<line x1="821.3" y1="114.9" x2="1043.7" y2="73.5" stroke="#3c4444" stroke-width="1.8" stroke-dasharray="1.8 1.6"/>
<polygon points="844.7,38.1 848.2,44.6 841.2,44.6" fill="#f4522a"/>
<polygon points="850.6,39.4 854.1,45.9 847.1,45.9" fill="#f4522a"/>
<polygon points="805,41.5 808.5,48 801.5,48" fill="#f4522a"/>
<polygon points="833,42 836.5,48.5 829.5,48.5" fill="#f4522a"/>
<polygon points="861.6,47.1 865.1,53.6 858.1,53.6" fill="#f4522a"/>
<polygon points="752.2,48.1 755.7,54.6 748.7,54.6" fill="#f4522a"/>
<polygon points="874.5,48.4 878,54.9 871,54.9" fill="#f4522a"/>
<polygon points="782.9,49.2 786.4,55.7 779.4,55.7" fill="#f4522a"/>
<polygon points="789,50.2 792.5,56.7 785.5,56.7" fill="#f4522a"/>
<polygon points="881,51 884.5,57.5 877.5,57.5" fill="#f4522a"/>
<polygon points="825,51.5 828.5,58 821.5,58" fill="#f4522a"/>
<polygon points="759.4,54.3 762.9,60.8 755.9,60.8" fill="#f4522a"/>
<polygon points="847.3,54.9 850.8,61.4 843.8,61.4" fill="#f4522a"/>
<polygon points="912.2,54.9 915.7,61.4 908.7,61.4" fill="#f4522a"/>
<polygon points="810,56.5 813.5,63 806.5,63" fill="#f4522a"/>
<polygon points="678.8,57.3 682.3,63.8 675.3,63.8" fill="#f4522a"/>
<polygon points="895.3,57.5 898.8,64 891.8,64" fill="#f4522a"/>
<polygon points="918.7,57.5 922.2,64 915.2,64" fill="#f4522a"/>
<polygon points="729.8,58.3 733.3,64.8 726.3,64.8" fill="#f4522a"/>
<polygon points="790,58.3 793.5,64.8 786.5,64.8" fill="#f4522a"/>
<polygon points="901.8,58.8 905.3,65.3 898.3,65.3" fill="#f4522a"/>
<polygon points="882.3,60.1 885.8,66.6 878.8,66.6" fill="#f4522a"/>
<polygon points="736.3,60.4 739.8,66.9 732.8,66.9" fill="#f4522a"/>
<polygon points="698.6,62.4 702.1,68.9 695.1,68.9" fill="#f4522a"/>
<polygon points="890.1,63.5 893.6,70 886.6,70" fill="#f4522a"/>
<polygon points="929.1,65.3 932.6,71.8 925.6,71.8" fill="#f4522a"/>
<polygon points="942.1,65.3 945.6,71.8 938.6,71.8" fill="#f4522a"/>
<polygon points="692,65.5 695.5,72 688.5,72" fill="#f4522a"/>
<polygon points="716.5,66.5 720,73 713,73" fill="#f4522a"/>
<polygon points="770.6,66.5 774.1,73 767.1,73" fill="#f4522a"/>
<polygon points="815,66.5 818.5,73 811.5,73" fill="#f4522a"/>
<polygon points="948.6,66.6 952.1,73.1 945.1,73.1" fill="#f4522a"/>
<polygon points="699.2,67.5 702.7,74 695.7,74" fill="#f4522a"/>
<polygon points="776.7,67.5 780.2,74 773.2,74" fill="#f4522a"/>
<polygon points="682.4,69.2 685.9,75.7 678.9,75.7" fill="#f4522a"/>
<polygon points="859,69.2 862.5,75.7 855.5,75.7" fill="#f4522a"/>
<polygon points="665.5,70 669,76.5 662,76.5" fill="#f4522a"/>
<polygon points="914.8,70.5 918.3,77 911.3,77" fill="#f4522a"/>
<polygon points="672.2,71.2 675.7,77.7 668.7,77.7" fill="#f4522a"/>
<polygon points="732.9,71.6 736.4,78.1 729.4,78.1" fill="#f4522a"/>
<polygon points="746.1,71.6 749.6,78.1 742.6,78.1" fill="#f4522a"/>
<polygon points="829.1,73.1 832.6,79.6 825.6,79.6" fill="#f4522a"/>
<polygon points="882.3,74.4 885.8,80.9 878.8,80.9" fill="#f4522a"/>
<polygon points="968,74.4 971.5,80.9 964.5,80.9" fill="#f4522a"/>
<polygon points="717.1,75.7 720.6,82.2 713.6,82.2" fill="#f4522a"/>
<polygon points="751.2,75.7 754.7,82.2 747.7,82.2" fill="#f4522a"/>
<polygon points="799.2,75.7 802.7,82.2 795.7,82.2" fill="#f4522a"/>
<polygon points="888.8,77 892.3,83.5 885.3,83.5" fill="#f4522a"/>
<polygon points="723.7,77.7 727.2,84.2 720.2,84.2" fill="#f4522a"/>
<polygon points="767.6,81.8 771.1,88.3 764.1,88.3" fill="#f4522a"/>
<polygon points="760.4,82.8 763.9,89.3 756.9,89.3" fill="#f4522a"/>
<polygon points="839.5,83.5 843,90 836,90" fill="#f4522a"/>
<polygon points="895.3,83.5 898.8,90 891.8,90" fill="#f4522a"/>
<polygon points="785.9,84.9 789.4,91.4 782.4,91.4" fill="#f4522a"/>
<polygon points="846,86.1 849.5,92.6 842.5,92.6" fill="#f4522a"/>
<polygon points="733.9,86.9 737.4,93.4 730.4,93.4" fill="#f4522a"/>
<polygon points="751.2,86.9 754.7,93.4 747.7,93.4" fill="#f4522a"/>
<polygon points="808,88.5 811.5,95 804.5,95" fill="#f4522a"/>
<polygon points="741,88.9 744.5,95.4 737.5,95.4" fill="#f4522a"/>
<polygon points="784.9,93 788.4,99.5 781.4,99.5" fill="#f4522a"/>
<polygon points="792,95.1 795.5,101.6 788.5,101.6" fill="#f4522a"/>
<polygon points="820,96.5 823.5,103 816.5,103" fill="#f4522a"/>
<polygon points="840.8,99.1 844.3,105.6 837.3,105.6" fill="#f4522a"/>
<text x="405" y="81" font-family="'Liberation Serif','Noto Serif CJK SC',serif" font-size="18.4" font-weight="600" fill="#111" text-anchor="start" style="white-space:pre">上模具</text>
<text x="405" y="141" font-family="'Liberation Serif','Noto Serif CJK SC',serif" font-size="18.4" font-weight="600" fill="#111" text-anchor="start" style="white-space:pre">上面板</text>
<text x="405" y="195.1" font-family="'Liberation Serif','Noto Serif CJK SC',serif" font-size="18.4" font-weight="600" fill="#111" text-anchor="start" style="white-space:pre">芯板</text>
<text x="405" y="258" font-family="'Liberation Serif','Noto Serif CJK SC',serif" font-size="18.4" font-weight="600" fill="#111" text-anchor="start" style="white-space:pre">下面板</text>
<text x="405" y="304" font-family="'Liberation Serif','Noto Serif CJK SC',serif" font-size="18.4" font-weight="600" fill="#111" text-anchor="start" style="white-space:pre">下模具</text>
<text x="221.5" y="379.7" font-family="'Liberation Serif','Noto Serif CJK SC',serif" font-size="20.2" font-weight="700" fill="#111" text-anchor="start" style="white-space:pre" textLength="22.6" lengthAdjust="spacingAndGlyphs">(a)</text>
<text x="818.3" y="379.7" font-family="'Liberation Serif','Noto Serif CJK SC',serif" font-size="20.2" font-weight="700" fill="#111" text-anchor="start" style="white-space:pre" textLength="23.6" lengthAdjust="spacingAndGlyphs">(b)</text>
<text y="423.9" font-family="'Liberation Serif','Noto Serif CJK SC',serif" font-size="21" fill="#111" style="white-space:pre"><tspan x="343.4" font-size="21">图</tspan><tspan font-size="1"> </tspan><tspan x="369.6" font-size="20.8">2</tspan><tspan font-size="1">　</tspan><tspan x="401.3" font-size="21" textLength="319" lengthAdjust="spacingAndGlyphs">点阵结构超塑成形有限元仿真模型</tspan></text>
<text y="458.6" font-family="'Liberation Serif','Noto Serif CJK SC',serif" font-size="21" fill="#111" style="white-space:pre"><tspan x="373.3" font-size="21">（</tspan><tspan x="398.1" font-size="20.6">a</tspan><tspan x="406.9" font-size="21">）</tspan><tspan x="429.6" font-size="21" textLength="85.5" lengthAdjust="spacingAndGlyphs">爆炸视图</tspan><tspan font-size="1">　</tspan><tspan x="535.3" font-size="21">（</tspan><tspan x="560" font-size="20.6">b</tspan><tspan x="572.7" font-size="21">）</tspan><tspan x="593.8" font-size="21" textLength="85.7" lengthAdjust="spacingAndGlyphs">载荷区域</tspan></text>
<text y="493.8" font-family="'Liberation Serif','Noto Serif CJK SC',serif" font-size="21" fill="#111" style="white-space:pre"><tspan x="183" font-size="20.6" textLength="48" lengthAdjust="spacingAndGlyphs">Fig. 2</tspan><tspan font-size="1">　</tspan><tspan x="251.5" font-size="20.6" textLength="630" lengthAdjust="spacingAndGlyphs">Finite element simulation model for superplastic forming of lattice structure</tspan></text>
<text y="528.2" font-family="'Liberation Serif','Noto Serif CJK SC',serif" font-size="21" fill="#111" style="white-space:pre"><tspan x="332.8" font-size="21">（</tspan><tspan x="357.1" font-size="20.6">a</tspan><tspan x="368.3" font-size="21">）</tspan><tspan x="390" font-size="20.6" textLength="120.5" lengthAdjust="spacingAndGlyphs">Exploded view</tspan><tspan font-size="1">　</tspan><tspan x="531.2" font-size="21">（</tspan><tspan x="556.4" font-size="20.6">b</tspan><tspan x="567.7" font-size="21">）</tspan><tspan x="589.3" font-size="20.6" textLength="130.2" lengthAdjust="spacingAndGlyphs">Loading section</tspan></text>
</svg>
</body></html>
